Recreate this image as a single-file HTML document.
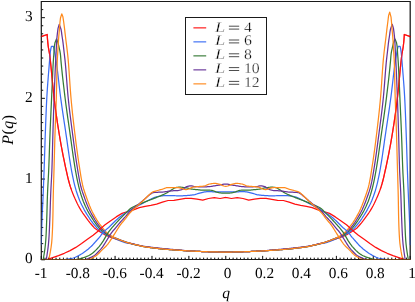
<!DOCTYPE html>
<html><head><meta charset="utf-8"><title>P(q)</title>
<style>html,body{margin:0;padding:0;background:#fff;}body{width:415px;height:302px;overflow:hidden;}svg{display:block;}text{font-family:"Liberation Serif",serif;fill:#000;text-rendering:geometricPrecision;}.lg text{stroke:#fff;stroke-width:0.3px;}.t{filter:grayscale(1);}</style></head><body>
<svg width="415" height="302" viewBox="0 0 415 302">
<rect x="0" y="0" width="415" height="302" fill="#fff"/>
<defs><clipPath id="c"><rect x="40.70" y="0.90" width="370.10" height="259.20"/></clipPath></defs>
<path d="M41.30 259.50 V255.90 M44.99 259.50 V257.70 M48.68 259.50 V257.70 M52.37 259.50 V257.70 M56.06 259.50 V257.70 M59.74 259.50 V257.70 M63.43 259.50 V257.70 M67.12 259.50 V257.70 M70.81 259.50 V257.70 M74.50 259.50 V257.70 M78.19 259.50 V255.90 M81.88 259.50 V257.70 M85.57 259.50 V257.70 M89.26 259.50 V257.70 M92.95 259.50 V257.70 M96.63 259.50 V257.70 M100.32 259.50 V257.70 M104.01 259.50 V257.70 M107.70 259.50 V257.70 M111.39 259.50 V257.70 M115.08 259.50 V255.90 M118.77 259.50 V257.70 M122.46 259.50 V257.70 M126.15 259.50 V257.70 M129.84 259.50 V257.70 M133.52 259.50 V257.70 M137.21 259.50 V257.70 M140.90 259.50 V257.70 M144.59 259.50 V257.70 M148.28 259.50 V257.70 M151.97 259.50 V255.90 M155.66 259.50 V257.70 M159.35 259.50 V257.70 M163.04 259.50 V257.70 M166.73 259.50 V257.70 M170.42 259.50 V257.70 M174.10 259.50 V257.70 M177.79 259.50 V257.70 M181.48 259.50 V257.70 M185.17 259.50 V257.70 M188.86 259.50 V255.90 M192.55 259.50 V257.70 M196.24 259.50 V257.70 M199.93 259.50 V257.70 M203.62 259.50 V257.70 M207.31 259.50 V257.70 M210.99 259.50 V257.70 M214.68 259.50 V257.70 M218.37 259.50 V257.70 M222.06 259.50 V257.70 M225.75 259.50 V255.90 M229.44 259.50 V257.70 M233.13 259.50 V257.70 M236.82 259.50 V257.70 M240.51 259.50 V257.70 M244.19 259.50 V257.70 M247.88 259.50 V257.70 M251.57 259.50 V257.70 M255.26 259.50 V257.70 M258.95 259.50 V257.70 M262.64 259.50 V255.90 M266.33 259.50 V257.70 M270.02 259.50 V257.70 M273.71 259.50 V257.70 M277.40 259.50 V257.70 M281.08 259.50 V257.70 M284.77 259.50 V257.70 M288.46 259.50 V257.70 M292.15 259.50 V257.70 M295.84 259.50 V257.70 M299.53 259.50 V255.90 M303.22 259.50 V257.70 M306.91 259.50 V257.70 M310.60 259.50 V257.70 M314.29 259.50 V257.70 M317.98 259.50 V257.70 M321.66 259.50 V257.70 M325.35 259.50 V257.70 M329.04 259.50 V257.70 M332.73 259.50 V257.70 M336.42 259.50 V255.90 M340.11 259.50 V257.70 M343.80 259.50 V257.70 M347.49 259.50 V257.70 M351.18 259.50 V257.70 M354.86 259.50 V257.70 M358.55 259.50 V257.70 M362.24 259.50 V257.70 M365.93 259.50 V257.70 M369.62 259.50 V257.70 M373.31 259.50 V255.90 M377.00 259.50 V257.70 M380.69 259.50 V257.70 M384.38 259.50 V257.70 M388.07 259.50 V257.70 M391.75 259.50 V257.70 M395.44 259.50 V257.70 M399.13 259.50 V257.70 M402.82 259.50 V257.70 M406.51 259.50 V257.70 M410.20 259.50 V255.90 M41.30 259.75 H44.90 M41.30 251.68 H43.20 M41.30 243.61 H43.20 M41.30 235.54 H43.20 M41.30 227.47 H43.20 M41.30 219.40 H43.20 M41.30 211.33 H43.20 M41.30 203.26 H43.20 M41.30 195.19 H43.20 M41.30 187.12 H43.20 M41.30 179.05 H44.90 M41.30 170.98 H43.20 M41.30 162.91 H43.20 M41.30 154.84 H43.20 M41.30 146.77 H43.20 M41.30 138.70 H43.20 M41.30 130.63 H43.20 M41.30 122.56 H43.20 M41.30 114.49 H43.20 M41.30 106.42 H43.20 M41.30 98.35 H44.90 M41.30 90.28 H43.20 M41.30 82.21 H43.20 M41.30 74.14 H43.20 M41.30 66.07 H43.20 M41.30 58.00 H43.20 M41.30 49.93 H43.20 M41.30 41.86 H43.20 M41.30 33.79 H43.20 M41.30 25.72 H43.20 M41.30 17.65 H44.90 M41.30 9.58 H43.20 M41.30 1.51 H43.20" stroke="#000" stroke-width="0.8" fill="none"/>
<rect x="41.30" y="1.50" width="368.90" height="258.00" fill="none" stroke="#181818" stroke-width="1.0"/>
<g fill="none" stroke-width="1.25" stroke-linejoin="round" stroke-linecap="round" clip-path="url(#c)">
<path stroke="#ff1010" d="M41.20 36.60 L47.20 34.50 L47.33 36.95 L47.51 39.39 L47.73 41.84 L47.99 44.28 L48.28 46.73 L48.68 49.17 L49.14 51.62 L49.58 54.06 L49.91 56.51 L50.19 58.96 L50.45 61.40 L50.71 63.85 L50.96 66.29 L51.20 68.74 L51.44 71.18 L51.67 73.63 L51.89 76.07 L52.12 78.52 L52.35 80.97 L52.58 83.41 L52.82 85.86 L53.06 88.30 L53.30 90.75 L53.56 93.19 L53.83 95.64 L54.11 98.08 L54.40 100.53 L54.70 102.98 L55.01 105.42 L55.33 107.87 L55.65 110.31 L55.99 112.76 L56.33 115.20 L56.68 117.65 L57.04 120.09 L57.40 122.54 L57.77 124.99 L58.15 127.43 L58.54 129.88 L58.93 132.32 L59.33 134.77 L59.73 137.21 L60.15 139.66 L60.58 142.11 L61.02 144.55 L61.47 147.00 L61.93 149.44 L62.39 151.89 L62.87 154.33 L63.36 156.78 L63.86 159.22 L64.36 161.67 L64.88 164.12 L65.40 166.56 L65.93 169.01 L66.47 171.45 L67.02 173.90 L67.58 176.34 L68.17 178.79 L68.79 181.23 L69.45 183.68 L70.17 186.13 L70.97 188.57 L71.85 191.02 L72.80 193.46 L73.81 195.91 L74.85 198.35 L75.96 200.80 L77.13 203.24 L78.39 205.69 L79.73 208.14 L81.19 210.58 L82.78 213.03 L84.47 215.47 L86.25 217.92 L88.08 220.36 L90.02 222.81 L92.07 225.25 L94.20 227.70 L95.24 228.54 L96.24 229.26 L97.25 229.92 L98.25 230.57 L99.26 231.24 L100.26 231.91 L101.27 232.57 L102.27 233.20 L103.28 233.81 L104.28 234.38 L105.28 234.90 L106.29 235.38 L107.29 235.84 L108.30 236.28 L109.30 236.69 L110.31 237.09 L111.31 237.47 L112.32 237.82 L113.32 238.16 L114.33 238.49 L115.33 238.81 L116.34 239.14 L117.34 239.47 L118.35 239.79 L119.35 240.11 L120.36 240.43 L121.36 240.75 L122.36 241.08 L123.37 241.41 L124.37 241.74 L125.38 242.06 L126.38 242.37 L127.39 242.65 L128.39 242.92 L129.40 243.19 L130.40 243.45 L131.41 243.70 L132.41 243.96 L133.42 244.21 L134.42 244.46 L135.43 244.70 L136.43 244.94 L137.44 245.18 L138.44 245.41 L139.44 245.65 L140.45 245.87 L141.45 246.10 L142.46 246.31 L143.46 246.50 L144.47 246.68 L145.47 246.85 L146.48 247.00 L147.48 247.15 L148.49 247.29 L149.49 247.43 L150.50 247.57 L151.50 247.70 L152.51 247.83 L153.51 247.96 L154.52 248.09 L155.52 248.21 L156.52 248.34 L157.53 248.45 L158.53 248.57 L159.54 248.68 L160.54 248.79 L161.55 248.89 L162.55 248.99 L163.56 249.08 L164.56 249.17 L165.57 249.25 L166.57 249.34 L167.58 249.42 L168.58 249.50 L169.59 249.57 L170.59 249.65 L171.60 249.72 L172.60 249.80 L173.61 249.87 L174.61 249.94 L175.61 250.01 L176.62 250.08 L177.62 250.15 L178.63 250.22 L179.63 250.29 L180.64 250.36 L181.64 250.43 L182.65 250.50 L183.65 250.57 L184.66 250.64 L185.66 250.71 L186.67 250.77 L187.67 250.84 L188.68 250.90 L189.68 250.96 L190.69 251.02 L191.69 251.08 L192.69 251.13 L193.70 251.19 L194.70 251.23 L195.71 251.28 L196.71 251.33 L197.72 251.37 L198.72 251.42 L199.73 251.46 L200.73 251.50 L201.74 251.54 L202.74 251.58 L203.75 251.62 L204.75 251.65 L205.76 251.69 L206.76 251.72 L207.77 251.75 L208.77 251.78 L209.77 251.80 L210.78 251.83 L211.78 251.85 L212.79 251.88 L213.79 251.90 L214.80 251.92 L215.80 251.94 L216.81 251.96 L217.81 251.98 L218.82 252.00 L219.82 252.02 L220.83 252.04 L221.83 252.05 L222.84 252.07 L223.84 252.08 L224.85 252.09 L225.85 252.10 L225.65 252.10 L226.65 252.09 L227.66 252.08 L228.66 252.07 L229.67 252.05 L230.67 252.04 L231.68 252.02 L232.68 252.00 L233.69 251.98 L234.69 251.96 L235.70 251.94 L236.70 251.92 L237.71 251.90 L238.71 251.88 L239.72 251.85 L240.72 251.83 L241.73 251.80 L242.73 251.78 L243.73 251.75 L244.74 251.72 L245.74 251.69 L246.75 251.65 L247.75 251.62 L248.76 251.58 L249.76 251.54 L250.77 251.50 L251.77 251.46 L252.78 251.42 L253.78 251.37 L254.79 251.33 L255.79 251.28 L256.80 251.23 L257.80 251.19 L258.81 251.13 L259.81 251.08 L260.81 251.02 L261.82 250.96 L262.82 250.90 L263.83 250.84 L264.83 250.77 L265.84 250.71 L266.84 250.64 L267.85 250.57 L268.85 250.50 L269.86 250.43 L270.86 250.36 L271.87 250.29 L272.87 250.22 L273.88 250.15 L274.88 250.08 L275.89 250.01 L276.89 249.94 L277.89 249.87 L278.90 249.80 L279.90 249.72 L280.91 249.65 L281.91 249.57 L282.92 249.50 L283.92 249.42 L284.93 249.34 L285.93 249.25 L286.94 249.17 L287.94 249.08 L288.95 248.99 L289.95 248.89 L290.96 248.79 L291.96 248.68 L292.97 248.57 L293.97 248.45 L294.98 248.34 L295.98 248.21 L296.98 248.09 L297.99 247.96 L298.99 247.83 L300.00 247.70 L301.00 247.57 L302.01 247.43 L303.01 247.29 L304.02 247.15 L305.02 247.00 L306.03 246.85 L307.03 246.68 L308.04 246.50 L309.04 246.31 L310.05 246.10 L311.05 245.87 L312.06 245.65 L313.06 245.41 L314.06 245.18 L315.07 244.94 L316.07 244.70 L317.08 244.46 L318.08 244.21 L319.09 243.96 L320.09 243.70 L321.10 243.45 L322.10 243.19 L323.11 242.92 L324.11 242.65 L325.12 242.37 L326.12 242.06 L327.13 241.74 L328.13 241.41 L329.14 241.08 L330.14 240.75 L331.14 240.43 L332.15 240.11 L333.15 239.79 L334.16 239.47 L335.16 239.14 L336.17 238.81 L337.17 238.49 L338.18 238.16 L339.18 237.82 L340.19 237.47 L341.19 237.09 L342.20 236.69 L343.20 236.28 L344.21 235.84 L345.21 235.38 L346.22 234.90 L347.22 234.38 L348.22 233.81 L349.23 233.20 L350.23 232.57 L351.24 231.91 L352.24 231.24 L353.25 230.57 L354.25 229.92 L355.26 229.26 L356.26 228.54 L357.30 227.70 L359.43 225.25 L361.48 222.81 L363.42 220.36 L365.25 217.92 L367.03 215.47 L368.72 213.03 L370.31 210.58 L371.77 208.14 L373.11 205.69 L374.37 203.24 L375.54 200.80 L376.65 198.35 L377.69 195.91 L378.70 193.46 L379.65 191.02 L380.53 188.57 L381.33 186.13 L382.05 183.68 L382.71 181.23 L383.33 178.79 L383.92 176.34 L384.48 173.90 L385.03 171.45 L385.57 169.01 L386.10 166.56 L386.62 164.12 L387.14 161.67 L387.64 159.22 L388.14 156.78 L388.63 154.33 L389.11 151.89 L389.57 149.44 L390.03 147.00 L390.48 144.55 L390.92 142.11 L391.35 139.66 L391.77 137.21 L392.17 134.77 L392.57 132.32 L392.96 129.88 L393.35 127.43 L393.73 124.99 L394.10 122.54 L394.46 120.09 L394.82 117.65 L395.17 115.20 L395.51 112.76 L395.85 110.31 L396.17 107.87 L396.49 105.42 L396.80 102.98 L397.10 100.53 L397.39 98.08 L397.67 95.64 L397.94 93.19 L398.20 90.75 L398.44 88.30 L398.68 85.86 L398.92 83.41 L399.15 80.97 L399.38 78.52 L399.61 76.07 L399.83 73.63 L400.06 71.18 L400.30 68.74 L400.54 66.29 L400.79 63.85 L401.05 61.40 L401.31 58.96 L401.59 56.51 L401.92 54.06 L402.36 51.62 L402.82 49.17 L403.22 46.73 L403.51 44.28 L403.77 41.84 L403.99 39.39 L404.17 36.95 L404.30 34.50 L410.30 36.60"/>
<path stroke="#3a6cf4" d="M41.30 244.70 L41.37 241.34 L41.44 237.97 L41.53 234.61 L41.62 231.25 L41.72 227.89 L41.84 224.52 L41.96 221.16 L42.09 217.80 L42.22 214.44 L42.37 211.07 L42.53 207.71 L42.70 204.35 L42.87 200.98 L43.03 197.62 L43.17 194.26 L43.31 190.90 L43.45 187.53 L43.58 184.17 L43.71 180.81 L43.83 177.45 L43.95 174.08 L44.07 170.72 L44.19 167.36 L44.31 163.99 L44.42 160.63 L44.53 157.27 L44.63 153.91 L44.74 150.54 L44.85 147.18 L44.96 143.82 L45.07 140.46 L45.19 137.09 L45.31 133.73 L45.43 130.37 L45.56 127.01 L45.68 123.64 L45.81 120.28 L45.94 116.92 L46.08 113.55 L46.22 110.19 L46.37 106.83 L46.52 103.47 L46.69 100.10 L46.87 96.74 L47.07 93.38 L47.28 90.02 L47.51 86.65 L47.76 83.29 L48.02 79.93 L48.28 76.56 L48.55 73.20 L48.82 69.84 L49.09 66.48 L49.36 63.11 L49.62 59.75 L49.87 56.39 L50.21 53.03 L50.69 49.66 L51.40 46.30 L51.40 46.30 L53.30 46.30 L53.91 48.60 L54.40 50.89 L54.80 53.19 L55.21 55.48 L55.63 57.78 L56.01 60.08 L56.35 62.37 L56.67 64.67 L56.98 66.97 L57.28 69.26 L57.56 71.56 L57.84 73.85 L58.11 76.15 L58.37 78.45 L58.63 80.74 L58.89 83.04 L59.15 85.34 L59.42 87.63 L59.69 89.93 L59.96 92.22 L60.25 94.52 L60.54 96.82 L60.85 99.11 L61.17 101.41 L61.49 103.71 L61.81 106.00 L62.15 108.30 L62.48 110.59 L62.82 112.89 L63.16 115.19 L63.51 117.48 L63.85 119.78 L64.20 122.07 L64.55 124.37 L64.90 126.67 L65.24 128.96 L65.59 131.26 L65.93 133.56 L66.27 135.85 L66.61 138.15 L66.94 140.44 L67.26 142.74 L67.59 145.04 L67.91 147.33 L68.24 149.63 L68.57 151.93 L68.90 154.22 L69.24 156.52 L69.59 158.81 L69.95 161.11 L70.32 163.41 L70.70 165.70 L71.09 168.00 L71.50 170.29 L71.93 172.59 L72.37 174.89 L72.84 177.18 L73.33 179.48 L73.84 181.78 L74.39 184.07 L74.97 186.37 L75.60 188.66 L76.28 190.96 L77.02 193.26 L77.80 195.55 L78.64 197.85 L79.55 200.15 L80.56 202.44 L81.64 204.74 L82.79 207.03 L83.99 209.33 L85.28 211.63 L86.65 213.92 L88.10 216.22 L89.63 218.52 L91.24 220.81 L92.96 223.11 L94.79 225.40 L96.70 227.70 L97.14 228.14 L98.14 229.10 L99.15 229.98 L100.16 230.79 L101.16 231.53 L102.17 232.22 L103.17 232.85 L104.18 233.45 L105.18 234.02 L106.19 234.57 L107.19 235.09 L108.20 235.58 L109.21 236.05 L110.21 236.52 L111.22 236.98 L112.22 237.43 L113.23 237.86 L114.23 238.29 L115.24 238.72 L116.24 239.15 L117.25 239.58 L118.26 240.02 L119.26 240.44 L120.27 240.85 L121.27 241.23 L122.28 241.59 L123.28 241.95 L124.29 242.29 L125.29 242.59 L126.30 242.85 L127.31 243.06 L128.31 243.24 L129.32 243.39 L130.32 243.54 L131.33 243.71 L132.33 243.91 L133.34 244.15 L134.34 244.40 L135.35 244.66 L136.36 244.92 L137.36 245.16 L138.37 245.39 L139.37 245.63 L140.38 245.86 L141.38 246.08 L142.39 246.29 L143.39 246.49 L144.40 246.67 L145.41 246.84 L146.41 246.99 L147.42 247.14 L148.42 247.29 L149.43 247.42 L150.43 247.56 L151.44 247.69 L152.44 247.82 L153.45 247.95 L154.46 248.08 L155.46 248.21 L156.47 248.33 L157.47 248.45 L158.48 248.56 L159.48 248.67 L160.49 248.78 L161.49 248.88 L162.50 248.98 L163.51 249.07 L164.51 249.16 L165.52 249.25 L166.52 249.33 L167.53 249.42 L168.53 249.49 L169.54 249.57 L170.54 249.65 L171.55 249.72 L172.56 249.79 L173.56 249.86 L174.57 249.93 L175.57 250.00 L176.58 250.07 L177.58 250.14 L178.59 250.21 L179.59 250.28 L180.60 250.35 L181.61 250.43 L182.61 250.50 L183.62 250.57 L184.62 250.64 L185.63 250.70 L186.63 250.77 L187.64 250.84 L188.64 250.90 L189.65 250.96 L190.66 251.02 L191.66 251.08 L192.67 251.13 L193.67 251.18 L194.68 251.23 L195.68 251.28 L196.69 251.33 L197.69 251.37 L198.70 251.41 L199.71 251.46 L200.71 251.50 L201.72 251.54 L202.72 251.58 L203.73 251.62 L204.73 251.65 L205.74 251.69 L206.74 251.72 L207.75 251.75 L208.76 251.78 L209.76 251.80 L210.77 251.83 L211.77 251.85 L212.78 251.87 L213.78 251.90 L214.79 251.92 L215.79 251.94 L216.80 251.96 L217.81 251.98 L218.81 252.00 L219.82 252.02 L220.82 252.04 L221.83 252.05 L222.83 252.07 L223.84 252.08 L224.84 252.09 L225.85 252.10 L225.65 252.10 L226.66 252.09 L227.66 252.08 L228.67 252.07 L229.67 252.05 L230.68 252.04 L231.68 252.02 L232.69 252.00 L233.69 251.98 L234.70 251.96 L235.71 251.94 L236.71 251.92 L237.72 251.90 L238.72 251.87 L239.73 251.85 L240.73 251.83 L241.74 251.80 L242.74 251.78 L243.75 251.75 L244.76 251.72 L245.76 251.69 L246.77 251.65 L247.77 251.62 L248.78 251.58 L249.78 251.54 L250.79 251.50 L251.79 251.46 L252.80 251.41 L253.81 251.37 L254.81 251.33 L255.82 251.28 L256.82 251.23 L257.83 251.18 L258.83 251.13 L259.84 251.08 L260.84 251.02 L261.85 250.96 L262.86 250.90 L263.86 250.84 L264.87 250.77 L265.87 250.70 L266.88 250.64 L267.88 250.57 L268.89 250.50 L269.89 250.43 L270.90 250.35 L271.91 250.28 L272.91 250.21 L273.92 250.14 L274.92 250.07 L275.93 250.00 L276.93 249.93 L277.94 249.86 L278.94 249.79 L279.95 249.72 L280.96 249.65 L281.96 249.57 L282.97 249.49 L283.97 249.42 L284.98 249.33 L285.98 249.25 L286.99 249.16 L287.99 249.07 L289.00 248.98 L290.01 248.88 L291.01 248.78 L292.02 248.67 L293.02 248.56 L294.03 248.45 L295.03 248.33 L296.04 248.21 L297.04 248.08 L298.05 247.95 L299.06 247.82 L300.06 247.69 L301.07 247.56 L302.07 247.42 L303.08 247.29 L304.08 247.14 L305.09 246.99 L306.09 246.84 L307.10 246.67 L308.11 246.49 L309.11 246.29 L310.12 246.08 L311.12 245.86 L312.13 245.63 L313.13 245.39 L314.14 245.16 L315.14 244.92 L316.15 244.66 L317.16 244.40 L318.16 244.15 L319.17 243.91 L320.17 243.71 L321.18 243.54 L322.18 243.39 L323.19 243.24 L324.19 243.06 L325.20 242.85 L326.21 242.59 L327.21 242.29 L328.22 241.95 L329.22 241.59 L330.23 241.23 L331.23 240.85 L332.24 240.44 L333.24 240.02 L334.25 239.58 L335.26 239.15 L336.26 238.72 L337.27 238.29 L338.27 237.86 L339.28 237.43 L340.28 236.98 L341.29 236.52 L342.29 236.05 L343.30 235.58 L344.31 235.09 L345.31 234.57 L346.32 234.02 L347.32 233.45 L348.33 232.85 L349.33 232.22 L350.34 231.53 L351.34 230.79 L352.35 229.98 L353.36 229.10 L354.36 228.14 L354.80 227.70 L356.71 225.40 L358.54 223.11 L360.26 220.81 L361.87 218.52 L363.40 216.22 L364.85 213.92 L366.22 211.63 L367.51 209.33 L368.71 207.03 L369.86 204.74 L370.94 202.44 L371.95 200.15 L372.86 197.85 L373.70 195.55 L374.48 193.26 L375.22 190.96 L375.90 188.66 L376.53 186.37 L377.11 184.07 L377.66 181.78 L378.17 179.48 L378.66 177.18 L379.13 174.89 L379.57 172.59 L380.00 170.29 L380.41 168.00 L380.80 165.70 L381.18 163.41 L381.55 161.11 L381.91 158.81 L382.26 156.52 L382.60 154.22 L382.93 151.93 L383.26 149.63 L383.59 147.33 L383.91 145.04 L384.24 142.74 L384.56 140.44 L384.89 138.15 L385.23 135.85 L385.57 133.56 L385.91 131.26 L386.26 128.96 L386.60 126.67 L386.95 124.37 L387.30 122.07 L387.65 119.78 L387.99 117.48 L388.34 115.19 L388.68 112.89 L389.02 110.59 L389.35 108.30 L389.69 106.00 L390.01 103.71 L390.33 101.41 L390.65 99.11 L390.96 96.82 L391.25 94.52 L391.54 92.22 L391.81 89.93 L392.08 87.63 L392.35 85.34 L392.61 83.04 L392.87 80.74 L393.13 78.45 L393.39 76.15 L393.66 73.85 L393.94 71.56 L394.22 69.26 L394.52 66.97 L394.83 64.67 L395.15 62.37 L395.49 60.08 L395.87 57.78 L396.29 55.48 L396.70 53.19 L397.10 50.89 L397.59 48.60 L398.20 46.30 L400.10 46.30 L400.10 46.30 L400.81 49.66 L401.29 53.03 L401.63 56.39 L401.88 59.75 L402.14 63.11 L402.41 66.48 L402.68 69.84 L402.95 73.20 L403.22 76.56 L403.48 79.93 L403.74 83.29 L403.99 86.65 L404.22 90.02 L404.43 93.38 L404.63 96.74 L404.81 100.10 L404.98 103.47 L405.13 106.83 L405.28 110.19 L405.42 113.55 L405.56 116.92 L405.69 120.28 L405.82 123.64 L405.94 127.01 L406.07 130.37 L406.19 133.73 L406.31 137.09 L406.43 140.46 L406.54 143.82 L406.65 147.18 L406.76 150.54 L406.87 153.91 L406.97 157.27 L407.08 160.63 L407.19 163.99 L407.31 167.36 L407.43 170.72 L407.55 174.08 L407.67 177.45 L407.79 180.81 L407.92 184.17 L408.05 187.53 L408.19 190.90 L408.33 194.26 L408.47 197.62 L408.63 200.98 L408.80 204.35 L408.97 207.71 L409.13 211.07 L409.28 214.44 L409.41 217.80 L409.54 221.16 L409.66 224.52 L409.78 227.89 L409.88 231.25 L409.97 234.61 L410.06 237.97 L410.13 241.34 L410.20 244.70"/>
<path stroke="#357a35" d="M41.30 259.50 L43.20 259.50 L43.84 255.76 L44.44 252.03 L44.96 248.29 L45.40 244.55 L45.74 240.81 L45.98 237.08 L46.18 233.34 L46.34 229.60 L46.49 225.86 L46.62 222.13 L46.76 218.39 L46.88 214.65 L46.99 210.92 L47.09 207.18 L47.19 203.44 L47.30 199.70 L47.43 195.97 L47.57 192.23 L47.74 188.49 L47.94 184.75 L48.14 181.02 L48.34 177.28 L48.54 173.54 L48.71 169.81 L48.86 166.07 L49.00 162.33 L49.14 158.59 L49.27 154.86 L49.39 151.12 L49.52 147.38 L49.64 143.64 L49.78 139.91 L49.92 136.17 L50.06 132.43 L50.22 128.69 L50.38 124.96 L50.54 121.22 L50.71 117.48 L50.88 113.75 L51.05 110.01 L51.22 106.27 L51.39 102.53 L51.56 98.80 L51.73 95.06 L51.89 91.32 L52.05 87.58 L52.21 83.85 L52.37 80.11 L52.54 76.37 L52.71 72.64 L52.89 68.90 L53.09 65.16 L53.31 61.42 L53.57 57.69 L53.87 53.95 L54.08 50.21 L54.36 46.47 L54.97 42.74 L56.50 39.00 L57.56 41.39 L58.26 43.78 L58.81 46.17 L59.36 48.55 L59.87 50.94 L60.30 53.33 L60.58 55.72 L60.76 58.11 L60.94 60.50 L61.16 62.89 L61.39 65.27 L61.62 67.66 L61.86 70.05 L62.11 72.44 L62.37 74.83 L62.63 77.22 L62.90 79.61 L63.17 81.99 L63.45 84.38 L63.74 86.77 L64.02 89.16 L64.31 91.55 L64.60 93.94 L64.89 96.33 L65.19 98.72 L65.49 101.10 L65.80 103.49 L66.11 105.88 L66.44 108.27 L66.76 110.66 L67.10 113.05 L67.43 115.44 L67.77 117.82 L68.11 120.21 L68.46 122.60 L68.80 124.99 L69.15 127.38 L69.49 129.77 L69.84 132.16 L70.18 134.54 L70.52 136.93 L70.85 139.32 L71.18 141.71 L71.51 144.10 L71.84 146.49 L72.17 148.88 L72.51 151.26 L72.85 153.65 L73.19 156.04 L73.55 158.43 L73.91 160.82 L74.28 163.21 L74.66 165.60 L75.06 167.98 L75.46 170.37 L75.89 172.76 L76.33 175.15 L76.79 177.54 L77.27 179.93 L77.78 182.32 L78.32 184.71 L78.89 187.09 L79.51 189.48 L80.17 191.87 L80.88 194.26 L81.65 196.65 L82.46 199.04 L83.35 201.43 L84.33 203.81 L85.37 206.20 L86.50 208.59 L87.72 210.98 L89.07 213.37 L90.51 215.76 L92.02 218.15 L93.58 220.53 L95.23 222.92 L96.98 225.31 L98.80 227.70 L99.71 228.64 L100.71 229.59 L101.71 230.47 L102.71 231.28 L103.71 232.03 L104.71 232.74 L105.71 233.42 L106.72 234.06 L107.72 234.66 L108.72 235.23 L109.72 235.77 L110.72 236.26 L111.72 236.70 L112.72 237.10 L113.72 237.48 L114.72 237.85 L115.73 238.23 L116.73 238.63 L117.73 239.03 L118.73 239.44 L119.73 239.83 L120.73 240.22 L121.73 240.60 L122.73 240.98 L123.73 241.35 L124.74 241.71 L125.74 242.05 L126.74 242.37 L127.74 242.68 L128.74 242.97 L129.74 243.25 L130.74 243.52 L131.74 243.79 L132.75 244.04 L133.75 244.30 L134.75 244.54 L135.75 244.78 L136.75 245.02 L137.75 245.25 L138.75 245.48 L139.75 245.72 L140.75 245.94 L141.76 246.16 L142.76 246.37 L143.76 246.56 L144.76 246.73 L145.76 246.89 L146.76 247.05 L147.76 247.19 L148.76 247.33 L149.76 247.47 L150.77 247.60 L151.77 247.73 L152.77 247.87 L153.77 247.99 L154.77 248.12 L155.77 248.24 L156.77 248.36 L157.77 248.48 L158.77 248.60 L159.78 248.71 L160.78 248.81 L161.78 248.91 L162.78 249.01 L163.78 249.10 L164.78 249.19 L165.78 249.27 L166.78 249.36 L167.78 249.44 L168.79 249.51 L169.79 249.59 L170.79 249.66 L171.79 249.74 L172.79 249.81 L173.79 249.88 L174.79 249.95 L175.79 250.02 L176.79 250.09 L177.80 250.16 L178.80 250.23 L179.80 250.30 L180.80 250.37 L181.80 250.44 L182.80 250.51 L183.80 250.58 L184.80 250.65 L185.80 250.72 L186.81 250.78 L187.81 250.85 L188.81 250.91 L189.81 250.97 L190.81 251.03 L191.81 251.09 L192.81 251.14 L193.81 251.19 L194.82 251.24 L195.82 251.29 L196.82 251.33 L197.82 251.38 L198.82 251.42 L199.82 251.46 L200.82 251.50 L201.82 251.54 L202.82 251.58 L203.83 251.62 L204.83 251.65 L205.83 251.69 L206.83 251.72 L207.83 251.75 L208.83 251.78 L209.83 251.80 L210.83 251.83 L211.83 251.85 L212.84 251.88 L213.84 251.90 L214.84 251.92 L215.84 251.94 L216.84 251.96 L217.84 251.98 L218.84 252.00 L219.84 252.02 L220.84 252.04 L221.85 252.05 L222.85 252.07 L223.85 252.08 L224.85 252.09 L225.85 252.10 L225.65 252.10 L226.65 252.09 L227.65 252.08 L228.65 252.07 L229.65 252.05 L230.66 252.04 L231.66 252.02 L232.66 252.00 L233.66 251.98 L234.66 251.96 L235.66 251.94 L236.66 251.92 L237.66 251.90 L238.66 251.88 L239.67 251.85 L240.67 251.83 L241.67 251.80 L242.67 251.78 L243.67 251.75 L244.67 251.72 L245.67 251.69 L246.67 251.65 L247.67 251.62 L248.68 251.58 L249.68 251.54 L250.68 251.50 L251.68 251.46 L252.68 251.42 L253.68 251.38 L254.68 251.33 L255.68 251.29 L256.68 251.24 L257.69 251.19 L258.69 251.14 L259.69 251.09 L260.69 251.03 L261.69 250.97 L262.69 250.91 L263.69 250.85 L264.69 250.78 L265.70 250.72 L266.70 250.65 L267.70 250.58 L268.70 250.51 L269.70 250.44 L270.70 250.37 L271.70 250.30 L272.70 250.23 L273.70 250.16 L274.71 250.09 L275.71 250.02 L276.71 249.95 L277.71 249.88 L278.71 249.81 L279.71 249.74 L280.71 249.66 L281.71 249.59 L282.71 249.51 L283.72 249.44 L284.72 249.36 L285.72 249.27 L286.72 249.19 L287.72 249.10 L288.72 249.01 L289.72 248.91 L290.72 248.81 L291.72 248.71 L292.73 248.60 L293.73 248.48 L294.73 248.36 L295.73 248.24 L296.73 248.12 L297.73 247.99 L298.73 247.87 L299.73 247.73 L300.73 247.60 L301.74 247.47 L302.74 247.33 L303.74 247.19 L304.74 247.05 L305.74 246.89 L306.74 246.73 L307.74 246.56 L308.74 246.37 L309.74 246.16 L310.75 245.94 L311.75 245.72 L312.75 245.48 L313.75 245.25 L314.75 245.02 L315.75 244.78 L316.75 244.54 L317.75 244.30 L318.75 244.04 L319.76 243.79 L320.76 243.52 L321.76 243.25 L322.76 242.97 L323.76 242.68 L324.76 242.37 L325.76 242.05 L326.76 241.71 L327.77 241.35 L328.77 240.98 L329.77 240.60 L330.77 240.22 L331.77 239.83 L332.77 239.44 L333.77 239.03 L334.77 238.63 L335.77 238.23 L336.78 237.85 L337.78 237.48 L338.78 237.10 L339.78 236.70 L340.78 236.26 L341.78 235.77 L342.78 235.23 L343.78 234.66 L344.78 234.06 L345.79 233.42 L346.79 232.74 L347.79 232.03 L348.79 231.28 L349.79 230.47 L350.79 229.59 L351.79 228.64 L352.70 227.70 L354.52 225.31 L356.27 222.92 L357.92 220.53 L359.48 218.15 L360.99 215.76 L362.43 213.37 L363.78 210.98 L365.00 208.59 L366.13 206.20 L367.17 203.81 L368.15 201.43 L369.04 199.04 L369.85 196.65 L370.62 194.26 L371.33 191.87 L371.99 189.48 L372.61 187.09 L373.18 184.71 L373.72 182.32 L374.23 179.93 L374.71 177.54 L375.17 175.15 L375.61 172.76 L376.04 170.37 L376.44 167.98 L376.84 165.60 L377.22 163.21 L377.59 160.82 L377.95 158.43 L378.31 156.04 L378.65 153.65 L378.99 151.26 L379.33 148.88 L379.66 146.49 L379.99 144.10 L380.32 141.71 L380.65 139.32 L380.98 136.93 L381.32 134.54 L381.66 132.16 L382.01 129.77 L382.35 127.38 L382.70 124.99 L383.04 122.60 L383.39 120.21 L383.73 117.82 L384.07 115.44 L384.40 113.05 L384.74 110.66 L385.06 108.27 L385.39 105.88 L385.70 103.49 L386.01 101.10 L386.31 98.72 L386.61 96.33 L386.90 93.94 L387.19 91.55 L387.48 89.16 L387.76 86.77 L388.05 84.38 L388.33 81.99 L388.60 79.61 L388.87 77.22 L389.13 74.83 L389.39 72.44 L389.64 70.05 L389.88 67.66 L390.11 65.27 L390.34 62.89 L390.56 60.50 L390.74 58.11 L390.92 55.72 L391.20 53.33 L391.63 50.94 L392.14 48.55 L392.69 46.17 L393.24 43.78 L393.94 41.39 L395.00 39.00 L396.53 42.74 L397.14 46.47 L397.42 50.21 L397.63 53.95 L397.93 57.69 L398.19 61.42 L398.41 65.16 L398.61 68.90 L398.79 72.64 L398.96 76.37 L399.13 80.11 L399.29 83.85 L399.45 87.58 L399.61 91.32 L399.77 95.06 L399.94 98.80 L400.11 102.53 L400.28 106.27 L400.45 110.01 L400.62 113.75 L400.79 117.48 L400.96 121.22 L401.12 124.96 L401.28 128.69 L401.44 132.43 L401.58 136.17 L401.72 139.91 L401.86 143.64 L401.98 147.38 L402.11 151.12 L402.23 154.86 L402.36 158.59 L402.50 162.33 L402.64 166.07 L402.79 169.81 L402.96 173.54 L403.16 177.28 L403.36 181.02 L403.56 184.75 L403.76 188.49 L403.93 192.23 L404.07 195.97 L404.20 199.70 L404.31 203.44 L404.41 207.18 L404.51 210.92 L404.62 214.65 L404.74 218.39 L404.88 222.13 L405.01 225.86 L405.16 229.60 L405.32 233.34 L405.52 237.08 L405.76 240.81 L406.10 244.55 L406.54 248.29 L407.06 252.03 L407.66 255.76 L408.30 259.50 L410.20 259.50"/>
<path stroke="#663399" d="M41.30 259.50 L46.30 259.50 L46.94 255.52 L47.54 251.53 L48.06 247.55 L48.50 243.56 L48.83 239.58 L49.09 235.59 L49.30 231.61 L49.48 227.62 L49.65 223.64 L49.81 219.65 L49.97 215.67 L50.10 211.68 L50.23 207.70 L50.35 203.71 L50.49 199.73 L50.63 195.74 L50.80 191.76 L51.00 187.77 L51.21 183.79 L51.44 179.81 L51.64 175.82 L51.83 171.84 L51.98 167.85 L52.10 163.87 L52.22 159.88 L52.33 155.90 L52.43 151.91 L52.53 147.93 L52.63 143.94 L52.73 139.96 L52.84 135.97 L52.96 131.99 L53.08 128.00 L53.21 124.02 L53.34 120.03 L53.47 116.05 L53.60 112.06 L53.74 108.08 L53.88 104.09 L54.02 100.11 L54.17 96.13 L54.32 92.14 L54.47 88.16 L54.63 84.17 L54.78 80.19 L54.95 76.20 L55.12 72.22 L55.30 68.23 L55.49 64.25 L55.69 60.26 L55.92 56.28 L56.13 52.29 L56.30 48.31 L56.48 44.32 L56.70 40.34 L57.06 36.35 L57.51 32.37 L58.04 28.38 L59.20 24.40 L60.26 26.97 L61.08 29.55 L61.52 32.12 L61.82 34.69 L62.22 37.27 L62.64 39.84 L62.98 42.41 L63.29 44.99 L63.58 47.56 L63.86 50.13 L64.15 52.71 L64.45 55.28 L64.76 57.85 L65.04 60.43 L65.30 63.00 L65.53 65.57 L65.76 68.15 L65.97 70.72 L66.17 73.29 L66.37 75.87 L66.57 78.44 L66.76 81.02 L66.96 83.59 L67.16 86.16 L67.37 88.74 L67.58 91.31 L67.81 93.88 L68.05 96.46 L68.30 99.03 L68.57 101.60 L68.85 104.18 L69.14 106.75 L69.44 109.32 L69.75 111.90 L70.07 114.47 L70.39 117.04 L70.72 119.62 L71.05 122.19 L71.39 124.76 L71.72 127.34 L72.06 129.91 L72.40 132.48 L72.74 135.06 L73.08 137.63 L73.41 140.20 L73.75 142.78 L74.10 145.35 L74.44 147.92 L74.79 150.50 L75.15 153.07 L75.51 155.64 L75.88 158.22 L76.26 160.79 L76.65 163.36 L77.05 165.94 L77.46 168.51 L77.88 171.08 L78.30 173.66 L78.74 176.23 L79.21 178.81 L79.70 181.38 L80.25 183.95 L80.85 186.53 L81.57 189.10 L82.38 191.67 L83.26 194.25 L84.18 196.82 L85.10 199.39 L86.05 201.97 L87.05 204.54 L88.13 207.11 L89.31 209.69 L90.61 212.26 L92.02 214.83 L93.51 217.41 L95.09 219.98 L96.78 222.55 L98.59 225.13 L100.50 227.70 L101.61 228.84 L102.62 229.74 L103.62 230.61 L104.62 231.47 L105.62 232.32 L106.62 233.14 L107.62 233.92 L108.63 234.65 L109.63 235.32 L110.63 235.91 L111.63 236.44 L112.63 236.91 L113.64 237.35 L114.64 237.77 L115.64 238.18 L116.64 238.60 L117.64 239.01 L118.65 239.40 L119.65 239.79 L120.65 240.17 L121.65 240.55 L122.65 240.92 L123.66 241.29 L124.66 241.64 L125.66 241.98 L126.66 242.30 L127.66 242.60 L128.66 242.88 L129.67 243.15 L130.67 243.42 L131.67 243.67 L132.67 243.92 L133.67 244.16 L134.68 244.39 L135.68 244.62 L136.68 244.84 L137.68 245.06 L138.68 245.27 L139.69 245.49 L140.69 245.70 L141.69 245.90 L142.69 246.08 L143.69 246.26 L144.70 246.41 L145.70 246.56 L146.70 246.69 L147.70 246.82 L148.70 246.94 L149.70 247.06 L150.71 247.18 L151.71 247.29 L152.71 247.41 L153.71 247.53 L154.71 247.64 L155.72 247.76 L156.72 247.87 L157.72 247.98 L158.72 248.09 L159.72 248.20 L160.73 248.31 L161.73 248.41 L162.73 248.51 L163.73 248.61 L164.73 248.71 L165.74 248.80 L166.74 248.90 L167.74 248.99 L168.74 249.08 L169.74 249.18 L170.75 249.27 L171.75 249.36 L172.75 249.45 L173.75 249.54 L174.75 249.63 L175.75 249.72 L176.76 249.81 L177.76 249.89 L178.76 249.98 L179.76 250.07 L180.76 250.16 L181.77 250.25 L182.77 250.34 L183.77 250.42 L184.77 250.51 L185.77 250.59 L186.78 250.67 L187.78 250.74 L188.78 250.82 L189.78 250.89 L190.78 250.96 L191.79 251.02 L192.79 251.09 L193.79 251.14 L194.79 251.20 L195.79 251.25 L196.79 251.30 L197.80 251.35 L198.80 251.40 L199.80 251.44 L200.80 251.49 L201.80 251.53 L202.81 251.57 L203.81 251.61 L204.81 251.65 L205.81 251.68 L206.81 251.71 L207.82 251.74 L208.82 251.77 L209.82 251.80 L210.82 251.83 L211.82 251.85 L212.83 251.87 L213.83 251.90 L214.83 251.92 L215.83 251.94 L216.83 251.96 L217.83 251.98 L218.84 252.00 L219.84 252.02 L220.84 252.04 L221.84 252.05 L222.84 252.07 L223.85 252.08 L224.85 252.09 L225.85 252.10 L225.65 252.10 L226.65 252.09 L227.65 252.08 L228.66 252.07 L229.66 252.05 L230.66 252.04 L231.66 252.02 L232.66 252.00 L233.67 251.98 L234.67 251.96 L235.67 251.94 L236.67 251.92 L237.67 251.90 L238.67 251.87 L239.68 251.85 L240.68 251.83 L241.68 251.80 L242.68 251.77 L243.68 251.74 L244.69 251.71 L245.69 251.68 L246.69 251.65 L247.69 251.61 L248.69 251.57 L249.70 251.53 L250.70 251.49 L251.70 251.44 L252.70 251.40 L253.70 251.35 L254.71 251.30 L255.71 251.25 L256.71 251.20 L257.71 251.14 L258.71 251.09 L259.71 251.02 L260.72 250.96 L261.72 250.89 L262.72 250.82 L263.72 250.74 L264.72 250.67 L265.73 250.59 L266.73 250.51 L267.73 250.42 L268.73 250.34 L269.73 250.25 L270.74 250.16 L271.74 250.07 L272.74 249.98 L273.74 249.89 L274.74 249.81 L275.75 249.72 L276.75 249.63 L277.75 249.54 L278.75 249.45 L279.75 249.36 L280.75 249.27 L281.76 249.18 L282.76 249.08 L283.76 248.99 L284.76 248.90 L285.76 248.80 L286.77 248.71 L287.77 248.61 L288.77 248.51 L289.77 248.41 L290.77 248.31 L291.78 248.20 L292.78 248.09 L293.78 247.98 L294.78 247.87 L295.78 247.76 L296.79 247.64 L297.79 247.53 L298.79 247.41 L299.79 247.29 L300.79 247.18 L301.80 247.06 L302.80 246.94 L303.80 246.82 L304.80 246.69 L305.80 246.56 L306.80 246.41 L307.81 246.26 L308.81 246.08 L309.81 245.90 L310.81 245.70 L311.81 245.49 L312.82 245.27 L313.82 245.06 L314.82 244.84 L315.82 244.62 L316.82 244.39 L317.83 244.16 L318.83 243.92 L319.83 243.67 L320.83 243.42 L321.83 243.15 L322.84 242.88 L323.84 242.60 L324.84 242.30 L325.84 241.98 L326.84 241.64 L327.84 241.29 L328.85 240.92 L329.85 240.55 L330.85 240.17 L331.85 239.79 L332.85 239.40 L333.86 239.01 L334.86 238.60 L335.86 238.18 L336.86 237.77 L337.86 237.35 L338.87 236.91 L339.87 236.44 L340.87 235.91 L341.87 235.32 L342.87 234.65 L343.88 233.92 L344.88 233.14 L345.88 232.32 L346.88 231.47 L347.88 230.61 L348.88 229.74 L349.89 228.84 L351.00 227.70 L352.91 225.13 L354.72 222.55 L356.41 219.98 L357.99 217.41 L359.48 214.83 L360.89 212.26 L362.19 209.69 L363.37 207.11 L364.45 204.54 L365.45 201.97 L366.40 199.39 L367.32 196.82 L368.24 194.25 L369.12 191.67 L369.93 189.10 L370.65 186.53 L371.25 183.95 L371.80 181.38 L372.29 178.81 L372.76 176.23 L373.20 173.66 L373.62 171.08 L374.04 168.51 L374.45 165.94 L374.85 163.36 L375.24 160.79 L375.62 158.22 L375.99 155.64 L376.35 153.07 L376.71 150.50 L377.06 147.92 L377.40 145.35 L377.75 142.78 L378.09 140.20 L378.42 137.63 L378.76 135.06 L379.10 132.48 L379.44 129.91 L379.78 127.34 L380.11 124.76 L380.45 122.19 L380.78 119.62 L381.11 117.04 L381.43 114.47 L381.75 111.90 L382.06 109.32 L382.36 106.75 L382.65 104.18 L382.93 101.60 L383.20 99.03 L383.45 96.46 L383.69 93.88 L383.92 91.31 L384.13 88.74 L384.34 86.16 L384.54 83.59 L384.74 81.02 L384.93 78.44 L385.13 75.87 L385.33 73.29 L385.53 70.72 L385.74 68.15 L385.97 65.57 L386.20 63.00 L386.46 60.43 L386.74 57.85 L387.05 55.28 L387.35 52.71 L387.64 50.13 L387.92 47.56 L388.21 44.99 L388.52 42.41 L388.86 39.84 L389.28 37.27 L389.68 34.69 L389.98 32.12 L390.42 29.55 L391.24 26.97 L392.30 24.40 L393.46 28.38 L393.99 32.37 L394.44 36.35 L394.80 40.34 L395.02 44.32 L395.20 48.31 L395.37 52.29 L395.58 56.28 L395.81 60.26 L396.01 64.25 L396.20 68.23 L396.38 72.22 L396.55 76.20 L396.72 80.19 L396.87 84.17 L397.03 88.16 L397.18 92.14 L397.33 96.13 L397.48 100.11 L397.62 104.09 L397.76 108.08 L397.90 112.06 L398.03 116.05 L398.16 120.03 L398.29 124.02 L398.42 128.00 L398.54 131.99 L398.66 135.97 L398.77 139.96 L398.87 143.94 L398.97 147.93 L399.07 151.91 L399.17 155.90 L399.28 159.88 L399.40 163.87 L399.52 167.85 L399.67 171.84 L399.86 175.82 L400.06 179.81 L400.29 183.79 L400.50 187.77 L400.70 191.76 L400.87 195.74 L401.01 199.73 L401.15 203.71 L401.27 207.70 L401.40 211.68 L401.53 215.67 L401.69 219.65 L401.85 223.64 L402.02 227.62 L402.20 231.61 L402.41 235.59 L402.67 239.58 L403.00 243.56 L403.44 247.55 L403.96 251.53 L404.56 255.52 L405.20 259.50 L410.20 259.50"/>
<path stroke="#ff8a1c" d="M41.30 259.50 L48.80 259.50 L49.67 255.34 L50.46 251.17 L51.13 247.01 L51.65 242.85 L51.99 238.69 L52.24 234.52 L52.44 230.36 L52.61 226.20 L52.74 222.04 L52.85 217.87 L52.95 213.71 L53.02 209.55 L53.09 205.38 L53.16 201.22 L53.23 197.06 L53.33 192.90 L53.44 188.73 L53.56 184.57 L53.68 180.41 L53.81 176.25 L53.94 172.08 L54.06 167.92 L54.17 163.76 L54.29 159.59 L54.40 155.43 L54.51 151.27 L54.62 147.11 L54.73 142.94 L54.85 138.78 L54.98 134.62 L55.12 130.46 L55.26 126.29 L55.42 122.13 L55.58 117.97 L55.74 113.81 L55.90 109.64 L56.05 105.48 L56.19 101.32 L56.33 97.15 L56.44 92.99 L56.54 88.83 L56.63 84.67 L56.72 80.50 L56.81 76.34 L56.91 72.18 L57.02 68.02 L57.16 63.85 L57.31 59.69 L57.56 55.53 L57.81 51.36 L58.05 47.20 L58.30 43.04 L58.58 38.88 L58.92 34.71 L59.35 30.55 L59.67 26.39 L59.98 22.23 L60.46 18.06 L61.80 13.90 L62.87 16.61 L63.30 19.31 L63.69 22.02 L64.05 24.73 L64.39 27.43 L64.72 30.14 L65.03 32.84 L65.35 35.55 L65.67 38.26 L66.01 40.96 L66.35 43.67 L66.70 46.38 L67.03 49.08 L67.35 51.79 L67.66 54.49 L67.94 57.20 L68.19 59.91 L68.42 62.61 L68.64 65.32 L68.84 68.03 L69.04 70.73 L69.22 73.44 L69.41 76.15 L69.59 78.85 L69.77 81.56 L69.95 84.26 L70.14 86.97 L70.33 89.68 L70.54 92.38 L70.75 95.09 L70.98 97.80 L71.22 100.50 L71.48 103.21 L71.74 105.92 L72.01 108.62 L72.29 111.33 L72.58 114.03 L72.88 116.74 L73.18 119.45 L73.49 122.15 L73.81 124.86 L74.13 127.57 L74.45 130.27 L74.78 132.98 L75.11 135.68 L75.44 138.39 L75.78 141.10 L76.13 143.80 L76.48 146.51 L76.85 149.22 L77.21 151.92 L77.59 154.63 L77.98 157.34 L78.37 160.04 L78.77 162.75 L79.19 165.45 L79.61 168.16 L80.04 170.87 L80.47 173.57 L80.91 176.28 L81.38 178.99 L81.89 181.69 L82.46 184.40 L83.10 187.11 L83.88 189.81 L84.77 192.52 L85.71 195.22 L86.68 197.93 L87.64 200.64 L88.64 203.34 L89.71 206.05 L90.87 208.76 L92.14 211.46 L93.53 214.17 L95.03 216.87 L96.63 219.58 L98.40 222.29 L100.33 224.99 L102.40 227.70 L103.42 228.86 L104.43 230.07 L105.43 231.33 L106.43 232.33 L107.44 233.24 L108.44 234.07 L109.45 234.82 L110.45 235.50 L111.45 236.11 L112.46 236.67 L113.46 237.18 L114.46 237.65 L115.47 238.11 L116.47 238.55 L117.47 238.97 L118.48 239.37 L119.48 239.75 L120.48 240.13 L121.49 240.51 L122.49 240.89 L123.49 241.26 L124.50 241.62 L125.50 241.97 L126.50 242.30 L127.51 242.61 L128.51 242.90 L129.52 243.19 L130.52 243.46 L131.52 243.73 L132.53 243.99 L133.53 244.24 L134.53 244.49 L135.54 244.73 L136.54 244.97 L137.54 245.20 L138.55 245.44 L139.55 245.67 L140.55 245.90 L141.56 246.12 L142.56 246.33 L143.56 246.52 L144.57 246.70 L145.57 246.86 L146.57 247.02 L147.58 247.17 L148.58 247.31 L149.58 247.44 L150.59 247.58 L151.59 247.71 L152.60 247.84 L153.60 247.97 L154.60 248.10 L155.61 248.22 L156.61 248.35 L157.61 248.46 L158.62 248.58 L159.62 248.69 L160.62 248.79 L161.63 248.90 L162.63 248.99 L163.63 249.09 L164.64 249.17 L165.64 249.26 L166.64 249.34 L167.65 249.42 L168.65 249.50 L169.65 249.58 L170.66 249.65 L171.66 249.73 L172.67 249.80 L173.67 249.87 L174.67 249.94 L175.68 250.01 L176.68 250.08 L177.68 250.15 L178.69 250.22 L179.69 250.29 L180.69 250.36 L181.70 250.43 L182.70 250.50 L183.70 250.57 L184.71 250.64 L185.71 250.71 L186.71 250.78 L187.72 250.84 L188.72 250.91 L189.72 250.97 L190.73 251.03 L191.73 251.08 L192.73 251.14 L193.74 251.19 L194.74 251.24 L195.75 251.28 L196.75 251.33 L197.75 251.37 L198.76 251.42 L199.76 251.46 L200.76 251.50 L201.77 251.54 L202.77 251.58 L203.77 251.62 L204.78 251.65 L205.78 251.69 L206.78 251.72 L207.79 251.75 L208.79 251.78 L209.79 251.80 L210.80 251.83 L211.80 251.85 L212.80 251.88 L213.81 251.90 L214.81 251.92 L215.82 251.94 L216.82 251.96 L217.82 251.98 L218.83 252.00 L219.83 252.02 L220.83 252.04 L221.84 252.05 L222.84 252.07 L223.84 252.08 L224.85 252.09 L225.85 252.10 L225.65 252.10 L226.65 252.09 L227.66 252.08 L228.66 252.07 L229.66 252.05 L230.67 252.04 L231.67 252.02 L232.67 252.00 L233.68 251.98 L234.68 251.96 L235.68 251.94 L236.69 251.92 L237.69 251.90 L238.70 251.88 L239.70 251.85 L240.70 251.83 L241.71 251.80 L242.71 251.78 L243.71 251.75 L244.72 251.72 L245.72 251.69 L246.72 251.65 L247.73 251.62 L248.73 251.58 L249.73 251.54 L250.74 251.50 L251.74 251.46 L252.74 251.42 L253.75 251.37 L254.75 251.33 L255.75 251.28 L256.76 251.24 L257.76 251.19 L258.77 251.14 L259.77 251.08 L260.77 251.03 L261.78 250.97 L262.78 250.91 L263.78 250.84 L264.79 250.78 L265.79 250.71 L266.79 250.64 L267.80 250.57 L268.80 250.50 L269.80 250.43 L270.81 250.36 L271.81 250.29 L272.81 250.22 L273.82 250.15 L274.82 250.08 L275.82 250.01 L276.83 249.94 L277.83 249.87 L278.83 249.80 L279.84 249.73 L280.84 249.65 L281.85 249.58 L282.85 249.50 L283.85 249.42 L284.86 249.34 L285.86 249.26 L286.86 249.17 L287.87 249.09 L288.87 248.99 L289.87 248.90 L290.88 248.79 L291.88 248.69 L292.88 248.58 L293.89 248.46 L294.89 248.35 L295.89 248.22 L296.90 248.10 L297.90 247.97 L298.90 247.84 L299.91 247.71 L300.91 247.58 L301.92 247.44 L302.92 247.31 L303.92 247.17 L304.93 247.02 L305.93 246.86 L306.93 246.70 L307.94 246.52 L308.94 246.33 L309.94 246.12 L310.95 245.90 L311.95 245.67 L312.95 245.44 L313.96 245.20 L314.96 244.97 L315.96 244.73 L316.97 244.49 L317.97 244.24 L318.97 243.99 L319.98 243.73 L320.98 243.46 L321.98 243.19 L322.99 242.90 L323.99 242.61 L325.00 242.30 L326.00 241.97 L327.00 241.62 L328.01 241.26 L329.01 240.89 L330.01 240.51 L331.02 240.13 L332.02 239.75 L333.02 239.37 L334.03 238.97 L335.03 238.55 L336.03 238.11 L337.04 237.65 L338.04 237.18 L339.04 236.67 L340.05 236.11 L341.05 235.50 L342.05 234.82 L343.06 234.07 L344.06 233.24 L345.07 232.33 L346.07 231.33 L347.07 230.07 L348.08 228.86 L349.10 227.70 L351.17 224.99 L353.10 222.29 L354.87 219.58 L356.47 216.87 L357.97 214.17 L359.36 211.46 L360.63 208.76 L361.79 206.05 L362.86 203.34 L363.86 200.64 L364.82 197.93 L365.79 195.22 L366.73 192.52 L367.62 189.81 L368.40 187.11 L369.04 184.40 L369.61 181.69 L370.12 178.99 L370.59 176.28 L371.03 173.57 L371.46 170.87 L371.89 168.16 L372.31 165.45 L372.73 162.75 L373.13 160.04 L373.52 157.34 L373.91 154.63 L374.29 151.92 L374.65 149.22 L375.02 146.51 L375.37 143.80 L375.72 141.10 L376.06 138.39 L376.39 135.68 L376.72 132.98 L377.05 130.27 L377.37 127.57 L377.69 124.86 L378.01 122.15 L378.32 119.45 L378.62 116.74 L378.92 114.03 L379.21 111.33 L379.49 108.62 L379.76 105.92 L380.02 103.21 L380.28 100.50 L380.52 97.80 L380.75 95.09 L380.96 92.38 L381.17 89.68 L381.36 86.97 L381.55 84.26 L381.73 81.56 L381.91 78.85 L382.09 76.15 L382.28 73.44 L382.46 70.73 L382.66 68.03 L382.86 65.32 L383.08 62.61 L383.31 59.91 L383.56 57.20 L383.84 54.49 L384.15 51.79 L384.47 49.08 L384.80 46.38 L385.15 43.67 L385.49 40.96 L385.83 38.26 L386.15 35.55 L386.47 32.84 L386.78 30.14 L387.11 27.43 L387.45 24.73 L387.81 22.02 L388.20 18.72 L388.63 15.42 L389.70 12.12 L391.04 17.20 L391.52 22.23 L391.83 26.39 L392.15 30.55 L392.58 34.71 L392.92 38.88 L393.20 43.04 L393.45 47.20 L393.69 51.36 L393.94 55.53 L394.19 59.69 L394.34 63.85 L394.48 68.02 L394.59 72.18 L394.69 76.34 L394.78 80.50 L394.87 84.67 L394.96 88.83 L395.06 92.99 L395.17 97.15 L395.31 101.32 L395.45 105.48 L395.60 109.64 L395.76 113.81 L395.92 117.97 L396.08 122.13 L396.24 126.29 L396.38 130.46 L396.52 134.62 L396.65 138.78 L396.77 142.94 L396.88 147.11 L396.99 151.27 L397.10 155.43 L397.21 159.59 L397.33 163.76 L397.44 167.92 L397.56 172.08 L397.69 176.25 L397.82 180.41 L397.94 184.57 L398.06 188.73 L398.17 192.90 L398.27 197.06 L398.34 201.22 L398.41 205.38 L398.48 209.55 L398.55 213.71 L398.65 217.87 L398.76 222.04 L398.89 226.20 L399.06 230.36 L399.26 234.52 L399.51 238.69 L399.85 242.85 L400.37 247.01 L401.04 251.17 L401.83 255.34 L402.70 259.50 L410.20 259.50"/>
<path stroke="#ff1010" opacity="0.7" d="M41.20 36.60 L47.20 34.50 L47.33 36.95 L47.51 39.39 L47.73 41.84 L47.99 44.28 L48.28 46.73 L48.68 49.17 L49.14 51.62 L49.58 54.06 L49.91 56.51 L50.19 58.96 L50.45 61.40 L50.71 63.85 L50.96 66.29 L51.20 68.74 L51.44 71.18 L51.67 73.63 L51.89 76.07 L52.12 78.52 L52.35 80.97 L52.58 83.41 L52.82 85.86 L53.06 88.30 L53.30 90.75 L53.56 93.19 L53.83 95.64 L54.11 98.08 L54.40 100.53 L54.70 102.98 L55.01 105.42 L55.33 107.87 L55.65 110.31 L55.99 112.76 L56.33 115.20 L56.68 117.65 L57.04 120.09 L57.40 122.54 L57.77 124.99 L58.15 127.43 L58.54 129.88 L58.93 132.32 L59.33 134.77 L59.73 137.21 L60.15 139.66 L60.58 142.11 L61.02 144.55 L61.47 147.00 L61.93 149.44 L62.39 151.89 L62.87 154.33 L63.36 156.78 L63.86 159.22 L64.36 161.67 L64.88 164.12 L65.40 166.56 L65.93 169.01 L66.47 171.45 L67.02 173.90 L67.58 176.34 L68.17 178.79 L68.79 181.23 L69.45 183.68 L70.17 186.13 L70.97 188.57 M380.53 188.57 L381.33 186.13 L382.05 183.68 L382.71 181.23 L383.33 178.79 L383.92 176.34 L384.48 173.90 L385.03 171.45 L385.57 169.01 L386.10 166.56 L386.62 164.12 L387.14 161.67 L387.64 159.22 L388.14 156.78 L388.63 154.33 L389.11 151.89 L389.57 149.44 L390.03 147.00 L390.48 144.55 L390.92 142.11 L391.35 139.66 L391.77 137.21 L392.17 134.77 L392.57 132.32 L392.96 129.88 L393.35 127.43 L393.73 124.99 L394.10 122.54 L394.46 120.09 L394.82 117.65 L395.17 115.20 L395.51 112.76 L395.85 110.31 L396.17 107.87 L396.49 105.42 L396.80 102.98 L397.10 100.53 L397.39 98.08 L397.67 95.64 L397.94 93.19 L398.20 90.75 L398.44 88.30 L398.68 85.86 L398.92 83.41 L399.15 80.97 L399.38 78.52 L399.61 76.07 L399.83 73.63 L400.06 71.18 L400.30 68.74 L400.54 66.29 L400.79 63.85 L401.05 61.40 L401.31 58.96 L401.59 56.51 L401.92 54.06 L402.36 51.62 L402.82 49.17 L403.22 46.73 L403.51 44.28 L403.77 41.84 L403.99 39.39 L404.17 36.95 L404.30 34.50 L410.30 36.60"/>
<path stroke="#ff1010" d="M41.20 259.50 L46.97 259.50 L52.74 257.70 L58.50 255.60 L64.30 253.30 L70.05 250.60 L75.80 247.40 L81.60 243.60 L87.40 239.30 L93.10 235.20 L98.90 230.40 L104.70 225.00 L110.40 220.90 L116.20 216.90 L122.00 213.40 L127.70 211.60 L133.50 209.80 L139.30 207.60 L145.10 206.30 L150.80 205.30 L156.60 204.10 L162.40 202.20 L168.10 200.50 L173.90 200.30 L179.70 199.40 L185.40 198.40 L191.20 198.30 L197.00 199.10 L202.80 200.20 L208.50 198.50 L214.30 197.70 L220.10 198.50 L225.85 197.40 L225.65 197.40 L231.40 198.50 L237.20 197.70 L243.00 198.50 L248.70 200.20 L254.50 199.10 L260.30 198.30 L266.10 198.40 L271.80 199.40 L277.60 200.30 L283.40 200.50 L289.10 202.20 L294.90 204.10 L300.70 205.30 L306.40 206.30 L312.20 207.60 L318.00 209.80 L323.80 211.60 L329.50 213.40 L335.30 216.90 L341.10 220.90 L346.80 225.00 L352.60 230.40 L358.40 235.20 L364.10 239.30 L369.90 243.60 L375.70 247.40 L381.45 250.60 L387.20 253.30 L393.00 255.60 L398.76 257.70 L404.53 259.50 L410.30 259.50"/>
<path stroke="#3a6cf4" d="M41.20 259.50 L42.20 259.50 L43.21 259.50 L44.21 259.50 L45.21 259.50 L46.22 259.50 L47.22 259.50 L48.22 259.50 L49.23 259.50 L50.23 259.50 L51.24 259.50 L52.24 259.50 L53.24 259.50 L54.25 259.50 L55.25 259.50 L56.25 259.50 L57.26 259.50 L58.26 259.50 L59.26 259.50 L60.27 259.50 L61.27 259.50 L62.27 259.50 L63.28 259.50 L64.28 259.50 L65.28 259.45 L66.29 259.34 L67.29 259.20 L68.30 259.04 L69.30 258.87 L70.30 258.69 L71.31 258.49 L72.31 258.25 L73.31 257.98 L74.32 257.65 L75.32 257.22 L76.32 256.75 L77.33 256.26 L78.33 255.76 L79.33 255.22 L80.34 254.66 L81.34 254.08 L82.34 253.45 L83.35 252.78 L84.35 252.08 L85.36 251.35 L86.36 250.59 L87.36 249.79 L88.37 248.96 L89.37 248.08 L90.37 247.16 L91.38 246.21 L92.38 245.22 L93.38 244.15 L94.39 243.03 L95.39 241.88 L96.39 240.72 L97.40 239.58 L98.40 238.46 L99.40 237.32 L100.41 236.07 L101.41 234.71 L102.42 233.50 L103.42 232.36 L104.42 231.28 L105.43 230.28 L106.43 229.37 L107.43 228.52 L108.44 227.68 L109.44 226.77 L110.44 225.80 L111.45 224.77 L112.45 223.74 L113.45 222.72 L114.46 221.74 L115.46 220.80 L116.46 219.87 L117.47 218.96 L118.47 218.09 L119.48 217.26 L120.48 216.48 L121.48 215.74 L122.49 215.04 L123.49 214.36 L124.49 213.70 L125.50 213.04 L126.50 212.41 L127.50 211.79 L128.51 211.18 L129.51 210.59 L130.51 210.00 L131.52 209.44 L132.52 208.89 L133.52 208.33 L134.53 207.77 L135.53 207.21 L136.54 206.65 L137.54 206.09 L138.54 205.53 L139.55 204.98 L140.55 204.43 L141.55 203.89 L142.56 203.36 L143.56 202.83 L144.56 202.30 L145.57 201.77 L146.57 201.25 L147.57 200.74 L148.58 200.24 L149.58 199.75 L150.59 199.28 L151.59 198.82 L152.59 198.35 L153.60 197.89 L154.60 197.45 L155.60 197.07 L156.61 196.77 L157.61 196.51 L158.61 196.27 L159.62 196.06 L160.62 195.90 L161.62 195.81 L162.63 195.77 L163.63 195.74 L164.63 195.70 L165.64 195.68 L166.64 195.66 L167.65 195.64 L168.65 195.62 L169.65 195.61 L170.66 195.60 L171.66 195.60 L172.66 195.61 L173.67 195.64 L174.67 195.69 L175.67 195.75 L176.68 195.81 L177.68 195.86 L178.68 195.89 L179.69 195.90 L180.69 195.88 L181.69 195.84 L182.70 195.79 L183.70 195.73 L184.71 195.67 L185.71 195.61 L186.71 195.54 L187.72 195.47 L188.72 195.39 L189.72 195.30 L190.73 195.20 L191.73 195.09 L192.73 194.96 L193.74 194.81 L194.74 194.59 L195.74 194.31 L196.75 194.01 L197.75 193.71 L198.75 193.43 L199.76 193.14 L200.76 192.83 L201.77 192.54 L202.77 192.29 L203.77 192.10 L204.78 191.97 L205.78 191.83 L206.78 191.72 L207.79 191.64 L208.79 191.60 L209.79 191.61 L210.80 191.65 L211.80 191.70 L212.80 191.77 L213.81 191.83 L214.81 191.88 L215.81 191.90 L216.82 191.90 L217.82 191.90 L218.83 191.90 L219.83 191.90 L220.83 191.90 L221.84 191.90 L222.84 191.90 L223.84 191.90 L224.85 191.90 L225.85 191.90 L225.65 191.90 L226.65 191.90 L227.66 191.90 L228.66 191.90 L229.66 191.90 L230.67 191.90 L231.67 191.90 L232.67 191.90 L233.68 191.90 L234.68 191.90 L235.69 191.90 L236.69 191.88 L237.69 191.83 L238.70 191.77 L239.70 191.70 L240.70 191.65 L241.71 191.61 L242.71 191.60 L243.71 191.64 L244.72 191.72 L245.72 191.83 L246.72 191.97 L247.73 192.10 L248.73 192.29 L249.73 192.54 L250.74 192.83 L251.74 193.14 L252.75 193.43 L253.75 193.71 L254.75 194.01 L255.76 194.31 L256.76 194.59 L257.76 194.81 L258.77 194.96 L259.77 195.09 L260.77 195.20 L261.78 195.30 L262.78 195.39 L263.78 195.47 L264.79 195.54 L265.79 195.61 L266.79 195.67 L267.80 195.73 L268.80 195.79 L269.81 195.84 L270.81 195.88 L271.81 195.90 L272.82 195.89 L273.82 195.86 L274.82 195.81 L275.83 195.75 L276.83 195.69 L277.83 195.64 L278.84 195.61 L279.84 195.60 L280.84 195.60 L281.85 195.61 L282.85 195.62 L283.85 195.64 L284.86 195.66 L285.86 195.68 L286.87 195.70 L287.87 195.74 L288.87 195.77 L289.88 195.81 L290.88 195.90 L291.88 196.06 L292.89 196.27 L293.89 196.51 L294.89 196.77 L295.90 197.07 L296.90 197.45 L297.90 197.89 L298.91 198.35 L299.91 198.82 L300.91 199.28 L301.92 199.75 L302.92 200.24 L303.93 200.74 L304.93 201.25 L305.93 201.77 L306.94 202.30 L307.94 202.83 L308.94 203.36 L309.95 203.89 L310.95 204.43 L311.95 204.98 L312.96 205.53 L313.96 206.09 L314.96 206.65 L315.97 207.21 L316.97 207.77 L317.98 208.33 L318.98 208.89 L319.98 209.44 L320.99 210.00 L321.99 210.59 L322.99 211.18 L324.00 211.79 L325.00 212.41 L326.00 213.04 L327.01 213.70 L328.01 214.36 L329.01 215.04 L330.02 215.74 L331.02 216.48 L332.02 217.26 L333.03 218.09 L334.03 218.96 L335.04 219.87 L336.04 220.80 L337.04 221.74 L338.05 222.72 L339.05 223.74 L340.05 224.77 L341.06 225.80 L342.06 226.77 L343.06 227.68 L344.07 228.52 L345.07 229.37 L346.07 230.28 L347.08 231.28 L348.08 232.36 L349.08 233.50 L350.09 234.71 L351.09 236.07 L352.10 237.32 L353.10 238.46 L354.10 239.58 L355.11 240.72 L356.11 241.88 L357.11 243.03 L358.12 244.15 L359.12 245.22 L360.12 246.21 L361.13 247.16 L362.13 248.08 L363.13 248.96 L364.14 249.79 L365.14 250.59 L366.14 251.35 L367.15 252.08 L368.15 252.78 L369.16 253.45 L370.16 254.08 L371.16 254.66 L372.17 255.22 L373.17 255.76 L374.17 256.26 L375.18 256.75 L376.18 257.22 L377.18 257.65 L378.19 257.98 L379.19 258.25 L380.19 258.49 L381.20 258.69 L382.20 258.87 L383.20 259.04 L384.21 259.20 L385.21 259.34 L386.22 259.45 L387.22 259.50 L388.22 259.50 L389.23 259.50 L390.23 259.50 L391.23 259.50 L392.24 259.50 L393.24 259.50 L394.24 259.50 L395.25 259.50 L396.25 259.50 L397.25 259.50 L398.26 259.50 L399.26 259.50 L400.26 259.50 L401.27 259.50 L402.27 259.50 L403.28 259.50 L404.28 259.50 L405.28 259.50 L406.29 259.50 L407.29 259.50 L408.29 259.50 L409.30 259.50 L410.30 259.50"/>
<path stroke="#357a35" d="M41.20 259.50 L42.20 259.50 L43.21 259.50 L44.21 259.50 L45.21 259.50 L46.22 259.50 L47.22 259.50 L48.22 259.50 L49.23 259.50 L50.23 259.50 L51.24 259.50 L52.24 259.50 L53.24 259.50 L54.25 259.50 L55.25 259.50 L56.25 259.50 L57.26 259.50 L58.26 259.50 L59.26 259.50 L60.27 259.50 L61.27 259.50 L62.27 259.50 L63.28 259.50 L64.28 259.50 L65.28 259.50 L66.29 259.50 L67.29 259.50 L68.30 259.50 L69.30 259.50 L70.30 259.50 L71.31 259.50 L72.31 259.50 L73.31 259.50 L74.32 259.50 L75.32 259.50 L76.32 259.49 L77.33 259.38 L78.33 259.17 L79.33 258.90 L80.34 258.60 L81.34 258.32 L82.34 258.04 L83.35 257.72 L84.35 257.37 L85.36 257.00 L86.36 256.61 L87.36 256.19 L88.37 255.72 L89.37 255.21 L90.37 254.64 L91.38 253.98 L92.38 253.24 L93.38 252.43 L94.39 251.54 L95.39 250.59 L96.39 249.58 L97.40 248.53 L98.40 247.44 L99.40 246.29 L100.41 244.99 L101.41 243.56 L102.42 242.08 L103.42 240.56 L104.42 238.91 L105.43 237.16 L106.43 235.41 L107.43 233.72 L108.44 232.17 L109.44 230.81 L110.44 229.54 L111.45 228.35 L112.45 227.20 L113.45 226.08 L114.46 224.95 L115.46 223.81 L116.46 222.69 L117.47 221.59 L118.47 220.51 L119.48 219.44 L120.48 218.40 L121.48 217.37 L122.49 216.37 L123.49 215.37 L124.49 214.39 L125.50 213.41 L126.50 212.37 L127.50 211.32 L128.51 210.30 L129.51 209.35 L130.51 208.54 L131.52 207.87 L132.52 207.29 L133.52 206.76 L134.53 206.27 L135.53 205.81 L136.54 205.38 L137.54 204.96 L138.54 204.55 L139.55 204.14 L140.55 203.72 L141.55 203.30 L142.56 202.88 L143.56 202.48 L144.56 202.08 L145.57 201.68 L146.57 201.30 L147.57 200.91 L148.58 200.52 L149.58 200.13 L150.59 199.74 L151.59 199.35 L152.59 198.96 L153.60 198.57 L154.60 198.19 L155.60 197.81 L156.61 197.43 L157.61 197.04 L158.61 196.64 L159.62 196.23 L160.62 195.81 L161.62 195.38 L162.63 194.93 L163.63 194.46 L164.63 193.98 L165.64 193.48 L166.64 192.96 L167.65 192.41 L168.65 191.83 L169.65 191.17 L170.66 190.48 L171.66 189.81 L172.66 189.18 L173.67 188.52 L174.67 187.98 L175.67 187.68 L176.68 187.44 L177.68 187.25 L178.68 187.13 L179.69 187.10 L180.69 187.15 L181.69 187.25 L182.70 187.37 L183.70 187.50 L184.71 187.64 L185.71 187.80 L186.71 187.98 L187.72 188.17 L188.72 188.36 L189.72 188.59 L190.73 188.83 L191.73 189.05 L192.73 189.23 L193.74 189.37 L194.74 189.48 L195.74 189.57 L196.75 189.66 L197.75 189.74 L198.75 189.82 L199.76 189.92 L200.76 190.02 L201.77 190.11 L202.77 190.17 L203.77 190.20 L204.78 190.19 L205.78 190.17 L206.78 190.14 L207.79 190.12 L208.79 190.10 L209.79 190.12 L210.80 190.25 L211.80 190.45 L212.80 190.67 L213.81 191.00 L214.81 191.41 L215.81 191.81 L216.82 192.13 L217.82 192.40 L218.83 192.65 L219.83 192.85 L220.83 192.99 L221.84 193.06 L222.84 193.11 L223.84 193.16 L224.85 193.19 L225.85 193.20 L225.65 193.20 L226.65 193.19 L227.66 193.16 L228.66 193.11 L229.66 193.06 L230.67 192.99 L231.67 192.85 L232.67 192.65 L233.68 192.40 L234.68 192.13 L235.69 191.81 L236.69 191.41 L237.69 191.00 L238.70 190.67 L239.70 190.45 L240.70 190.25 L241.71 190.12 L242.71 190.10 L243.71 190.12 L244.72 190.14 L245.72 190.17 L246.72 190.19 L247.73 190.20 L248.73 190.17 L249.73 190.11 L250.74 190.02 L251.74 189.92 L252.75 189.82 L253.75 189.74 L254.75 189.66 L255.76 189.57 L256.76 189.48 L257.76 189.37 L258.77 189.23 L259.77 189.05 L260.77 188.83 L261.78 188.59 L262.78 188.36 L263.78 188.17 L264.79 187.98 L265.79 187.80 L266.79 187.64 L267.80 187.50 L268.80 187.37 L269.81 187.25 L270.81 187.15 L271.81 187.10 L272.82 187.13 L273.82 187.25 L274.82 187.44 L275.83 187.68 L276.83 187.98 L277.83 188.52 L278.84 189.18 L279.84 189.81 L280.84 190.48 L281.85 191.17 L282.85 191.83 L283.85 192.41 L284.86 192.96 L285.86 193.48 L286.87 193.98 L287.87 194.46 L288.87 194.93 L289.88 195.38 L290.88 195.81 L291.88 196.23 L292.89 196.64 L293.89 197.04 L294.89 197.43 L295.90 197.81 L296.90 198.19 L297.90 198.57 L298.91 198.96 L299.91 199.35 L300.91 199.74 L301.92 200.13 L302.92 200.52 L303.93 200.91 L304.93 201.30 L305.93 201.68 L306.94 202.08 L307.94 202.48 L308.94 202.88 L309.95 203.30 L310.95 203.72 L311.95 204.14 L312.96 204.55 L313.96 204.96 L314.96 205.38 L315.97 205.81 L316.97 206.27 L317.98 206.76 L318.98 207.29 L319.98 207.87 L320.99 208.54 L321.99 209.35 L322.99 210.30 L324.00 211.32 L325.00 212.37 L326.00 213.41 L327.01 214.39 L328.01 215.37 L329.01 216.37 L330.02 217.37 L331.02 218.40 L332.02 219.44 L333.03 220.51 L334.03 221.59 L335.04 222.69 L336.04 223.81 L337.04 224.95 L338.05 226.08 L339.05 227.20 L340.05 228.35 L341.06 229.54 L342.06 230.81 L343.06 232.17 L344.07 233.72 L345.07 235.41 L346.07 237.16 L347.08 238.91 L348.08 240.56 L349.08 242.08 L350.09 243.56 L351.09 244.99 L352.10 246.29 L353.10 247.44 L354.10 248.53 L355.11 249.58 L356.11 250.59 L357.11 251.54 L358.12 252.43 L359.12 253.24 L360.12 253.98 L361.13 254.64 L362.13 255.21 L363.13 255.72 L364.14 256.19 L365.14 256.61 L366.14 257.00 L367.15 257.37 L368.15 257.72 L369.16 258.04 L370.16 258.32 L371.16 258.60 L372.17 258.90 L373.17 259.17 L374.17 259.38 L375.18 259.49 L376.18 259.50 L377.18 259.50 L378.19 259.50 L379.19 259.50 L380.19 259.50 L381.20 259.50 L382.20 259.50 L383.20 259.50 L384.21 259.50 L385.21 259.50 L386.22 259.50 L387.22 259.50 L388.22 259.50 L389.23 259.50 L390.23 259.50 L391.23 259.50 L392.24 259.50 L393.24 259.50 L394.24 259.50 L395.25 259.50 L396.25 259.50 L397.25 259.50 L398.26 259.50 L399.26 259.50 L400.26 259.50 L401.27 259.50 L402.27 259.50 L403.28 259.50 L404.28 259.50 L405.28 259.50 L406.29 259.50 L407.29 259.50 L408.29 259.50 L409.30 259.50 L410.30 259.50"/>
<path stroke="#663399" d="M41.20 259.50 L42.20 259.50 L43.21 259.50 L44.21 259.50 L45.21 259.50 L46.22 259.50 L47.22 259.50 L48.22 259.50 L49.23 259.50 L50.23 259.50 L51.24 259.50 L52.24 259.50 L53.24 259.50 L54.25 259.50 L55.25 259.50 L56.25 259.50 L57.26 259.50 L58.26 259.50 L59.26 259.50 L60.27 259.50 L61.27 259.50 L62.27 259.50 L63.28 259.50 L64.28 259.50 L65.28 259.50 L66.29 259.50 L67.29 259.50 L68.30 259.50 L69.30 259.50 L70.30 259.50 L71.31 259.50 L72.31 259.50 L73.31 259.50 L74.32 259.50 L75.32 259.50 L76.32 259.50 L77.33 259.50 L78.33 259.50 L79.33 259.50 L80.34 259.50 L81.34 259.50 L82.34 259.50 L83.35 259.50 L84.35 259.50 L85.36 259.38 L86.36 259.07 L87.36 258.77 L88.37 258.42 L89.37 258.04 L90.37 257.61 L91.38 257.15 L92.38 256.66 L93.38 256.09 L94.39 255.44 L95.39 254.69 L96.39 253.80 L97.40 252.79 L98.40 251.72 L99.40 250.65 L100.41 249.55 L101.41 248.38 L102.42 247.11 L103.42 245.69 L104.42 244.13 L105.43 242.51 L106.43 240.92 L107.43 239.27 L108.44 237.57 L109.44 235.90 L110.44 234.29 L111.45 232.81 L112.45 231.51 L113.45 230.38 L114.46 229.25 L115.46 228.05 L116.46 226.82 L117.47 225.59 L118.47 224.37 L119.48 223.18 L120.48 222.03 L121.48 220.93 L122.49 219.84 L123.49 218.76 L124.49 217.67 L125.50 216.55 L126.50 215.37 L127.50 214.17 L128.51 213.00 L129.51 211.90 L130.51 210.90 L131.52 209.96 L132.52 209.06 L133.52 208.19 L134.53 207.36 L135.53 206.54 L136.54 205.74 L137.54 204.95 L138.54 204.16 L139.55 203.37 L140.55 202.57 L141.55 201.75 L142.56 200.91 L143.56 200.04 L144.56 199.15 L145.57 198.25 L146.57 197.36 L147.57 196.48 L148.58 195.64 L149.58 194.84 L150.59 194.09 L151.59 193.37 L152.59 192.76 L153.60 192.55 L154.60 192.43 L155.60 192.36 L156.61 192.31 L157.61 192.27 L158.61 192.24 L159.62 192.20 L160.62 192.16 L161.62 192.11 L162.63 192.03 L163.63 191.93 L164.63 191.80 L165.64 191.66 L166.64 191.51 L167.65 191.37 L168.65 191.24 L169.65 191.09 L170.66 190.94 L171.66 190.82 L172.66 190.77 L173.67 190.73 L174.67 190.70 L175.67 190.68 L176.68 190.64 L177.68 190.57 L178.68 190.43 L179.69 190.21 L180.69 189.94 L181.69 189.62 L182.70 189.26 L183.70 188.68 L184.71 187.89 L185.71 187.13 L186.71 186.62 L187.72 186.37 L188.72 186.15 L189.72 185.99 L190.73 185.91 L191.73 185.94 L192.73 186.11 L193.74 186.34 L194.74 186.54 L195.74 186.63 L196.75 186.69 L197.75 186.74 L198.75 186.77 L199.76 186.81 L200.76 186.84 L201.77 186.87 L202.77 186.89 L203.77 186.90 L204.78 186.89 L205.78 186.85 L206.78 186.79 L207.79 186.72 L208.79 186.64 L209.79 186.55 L210.80 186.43 L211.80 186.27 L212.80 186.10 L213.81 185.93 L214.81 185.77 L215.81 185.62 L216.82 185.48 L217.82 185.34 L218.83 185.18 L219.83 185.01 L220.83 184.79 L221.84 184.54 L222.84 184.33 L223.84 184.22 L224.85 184.14 L225.85 184.10 L225.65 184.10 L226.65 184.14 L227.66 184.22 L228.66 184.33 L229.66 184.54 L230.67 184.79 L231.67 185.01 L232.67 185.18 L233.68 185.34 L234.68 185.48 L235.69 185.62 L236.69 185.77 L237.69 185.93 L238.70 186.10 L239.70 186.27 L240.70 186.43 L241.71 186.55 L242.71 186.64 L243.71 186.72 L244.72 186.79 L245.72 186.85 L246.72 186.89 L247.73 186.90 L248.73 186.89 L249.73 186.87 L250.74 186.84 L251.74 186.81 L252.75 186.77 L253.75 186.74 L254.75 186.69 L255.76 186.63 L256.76 186.54 L257.76 186.34 L258.77 186.11 L259.77 185.94 L260.77 185.91 L261.78 185.99 L262.78 186.15 L263.78 186.37 L264.79 186.62 L265.79 187.13 L266.79 187.89 L267.80 188.68 L268.80 189.26 L269.81 189.62 L270.81 189.94 L271.81 190.21 L272.82 190.43 L273.82 190.57 L274.82 190.64 L275.83 190.68 L276.83 190.70 L277.83 190.73 L278.84 190.77 L279.84 190.82 L280.84 190.94 L281.85 191.09 L282.85 191.24 L283.85 191.37 L284.86 191.51 L285.86 191.66 L286.87 191.80 L287.87 191.93 L288.87 192.03 L289.88 192.11 L290.88 192.16 L291.88 192.20 L292.89 192.24 L293.89 192.27 L294.89 192.31 L295.90 192.36 L296.90 192.43 L297.90 192.55 L298.91 192.76 L299.91 193.37 L300.91 194.09 L301.92 194.84 L302.92 195.64 L303.93 196.48 L304.93 197.36 L305.93 198.25 L306.94 199.15 L307.94 200.04 L308.94 200.91 L309.95 201.75 L310.95 202.57 L311.95 203.37 L312.96 204.16 L313.96 204.95 L314.96 205.74 L315.97 206.54 L316.97 207.36 L317.98 208.19 L318.98 209.06 L319.98 209.96 L320.99 210.90 L321.99 211.90 L322.99 213.00 L324.00 214.17 L325.00 215.37 L326.00 216.55 L327.01 217.67 L328.01 218.76 L329.01 219.84 L330.02 220.93 L331.02 222.03 L332.02 223.18 L333.03 224.37 L334.03 225.59 L335.04 226.82 L336.04 228.05 L337.04 229.25 L338.05 230.38 L339.05 231.51 L340.05 232.81 L341.06 234.29 L342.06 235.90 L343.06 237.57 L344.07 239.27 L345.07 240.92 L346.07 242.51 L347.08 244.13 L348.08 245.69 L349.08 247.11 L350.09 248.38 L351.09 249.55 L352.10 250.65 L353.10 251.72 L354.10 252.79 L355.11 253.80 L356.11 254.69 L357.11 255.44 L358.12 256.09 L359.12 256.66 L360.12 257.15 L361.13 257.61 L362.13 258.04 L363.13 258.42 L364.14 258.77 L365.14 259.07 L366.14 259.38 L367.15 259.50 L368.15 259.50 L369.16 259.50 L370.16 259.50 L371.16 259.50 L372.17 259.50 L373.17 259.50 L374.17 259.50 L375.18 259.50 L376.18 259.50 L377.18 259.50 L378.19 259.50 L379.19 259.50 L380.19 259.50 L381.20 259.50 L382.20 259.50 L383.20 259.50 L384.21 259.50 L385.21 259.50 L386.22 259.50 L387.22 259.50 L388.22 259.50 L389.23 259.50 L390.23 259.50 L391.23 259.50 L392.24 259.50 L393.24 259.50 L394.24 259.50 L395.25 259.50 L396.25 259.50 L397.25 259.50 L398.26 259.50 L399.26 259.50 L400.26 259.50 L401.27 259.50 L402.27 259.50 L403.28 259.50 L404.28 259.50 L405.28 259.50 L406.29 259.50 L407.29 259.50 L408.29 259.50 L409.30 259.50 L410.30 259.50"/>
<path stroke="#ff8a1c" d="M41.20 259.50 L42.20 259.50 L43.21 259.50 L44.21 259.50 L45.21 259.50 L46.22 259.50 L47.22 259.50 L48.22 259.50 L49.23 259.50 L50.23 259.50 L51.24 259.50 L52.24 259.50 L53.24 259.50 L54.25 259.50 L55.25 259.50 L56.25 259.50 L57.26 259.50 L58.26 259.50 L59.26 259.50 L60.27 259.50 L61.27 259.50 L62.27 259.50 L63.28 259.50 L64.28 259.50 L65.28 259.50 L66.29 259.50 L67.29 259.50 L68.30 259.50 L69.30 259.50 L70.30 259.50 L71.31 259.50 L72.31 259.50 L73.31 259.50 L74.32 259.50 L75.32 259.50 L76.32 259.50 L77.33 259.50 L78.33 259.50 L79.33 259.50 L80.34 259.50 L81.34 259.50 L82.34 259.50 L83.35 259.50 L84.35 259.50 L85.36 259.50 L86.36 259.50 L87.36 259.50 L88.37 259.47 L89.37 259.23 L90.37 258.91 L91.38 258.46 L92.38 257.93 L93.38 257.37 L94.39 256.78 L95.39 256.13 L96.39 255.42 L97.40 254.64 L98.40 253.72 L99.40 252.70 L100.41 251.64 L101.41 250.59 L102.42 249.60 L103.42 248.65 L104.42 247.71 L105.43 246.74 L106.43 245.70 L107.43 244.56 L108.44 243.26 L109.44 241.83 L110.44 240.33 L111.45 238.82 L112.45 237.26 L113.45 235.66 L114.46 234.07 L115.46 232.49 L116.46 230.90 L117.47 229.26 L118.47 227.64 L119.48 226.12 L120.48 224.74 L121.48 223.47 L122.49 222.25 L123.49 221.05 L124.49 219.85 L125.50 218.60 L126.50 217.29 L127.50 215.97 L128.51 214.67 L129.51 213.45 L130.51 212.34 L131.52 211.29 L132.52 210.29 L133.52 209.32 L134.53 208.39 L135.53 207.47 L136.54 206.58 L137.54 205.69 L138.54 204.81 L139.55 203.92 L140.55 203.03 L141.55 202.11 L142.56 201.17 L143.56 200.20 L144.56 199.21 L145.57 198.21 L146.57 197.22 L147.57 196.24 L148.58 195.30 L149.58 194.39 L150.59 193.54 L151.59 192.72 L152.59 192.00 L153.60 191.60 L154.60 191.31 L155.60 191.03 L156.61 190.75 L157.61 190.49 L158.61 190.23 L159.62 189.98 L160.62 189.72 L161.62 189.45 L162.63 189.14 L163.63 188.76 L164.63 188.37 L165.64 188.00 L166.64 187.70 L167.65 187.53 L168.65 187.50 L169.65 187.50 L170.66 187.50 L171.66 187.50 L172.66 187.50 L173.67 187.50 L174.67 187.50 L175.67 187.50 L176.68 187.50 L177.68 187.51 L178.68 187.64 L179.69 187.86 L180.69 188.15 L181.69 188.45 L182.70 188.73 L183.70 189.07 L184.71 189.42 L185.71 189.60 L186.71 189.51 L187.72 189.28 L188.72 188.98 L189.72 188.63 L190.73 188.13 L191.73 187.61 L192.73 187.21 L193.74 187.02 L194.74 186.90 L195.74 186.82 L196.75 186.74 L197.75 186.66 L198.75 186.58 L199.76 186.49 L200.76 186.42 L201.77 186.33 L202.77 186.23 L203.77 186.10 L204.78 185.86 L205.78 185.48 L206.78 185.02 L207.79 184.58 L208.79 184.22 L209.79 184.00 L210.80 183.81 L211.80 183.64 L212.80 183.50 L213.81 183.42 L214.81 183.40 L215.81 183.47 L216.82 183.61 L217.82 183.80 L218.83 184.03 L219.83 184.28 L220.83 184.67 L221.84 185.22 L222.84 185.71 L223.84 186.01 L224.85 186.25 L225.85 186.40 L225.65 186.40 L226.65 186.25 L227.66 186.01 L228.66 185.71 L229.66 185.22 L230.67 184.67 L231.67 184.28 L232.67 184.03 L233.68 183.80 L234.68 183.61 L235.69 183.47 L236.69 183.40 L237.69 183.42 L238.70 183.50 L239.70 183.64 L240.70 183.81 L241.71 184.00 L242.71 184.22 L243.71 184.58 L244.72 185.02 L245.72 185.48 L246.72 185.86 L247.73 186.10 L248.73 186.23 L249.73 186.33 L250.74 186.42 L251.74 186.49 L252.75 186.58 L253.75 186.66 L254.75 186.74 L255.76 186.82 L256.76 186.90 L257.76 187.02 L258.77 187.21 L259.77 187.61 L260.77 188.13 L261.78 188.63 L262.78 188.98 L263.78 189.28 L264.79 189.51 L265.79 189.60 L266.79 189.42 L267.80 189.07 L268.80 188.73 L269.81 188.45 L270.81 188.15 L271.81 187.86 L272.82 187.64 L273.82 187.51 L274.82 187.50 L275.83 187.50 L276.83 187.50 L277.83 187.50 L278.84 187.50 L279.84 187.50 L280.84 187.50 L281.85 187.50 L282.85 187.50 L283.85 187.53 L284.86 187.70 L285.86 188.00 L286.87 188.37 L287.87 188.76 L288.87 189.14 L289.88 189.45 L290.88 189.72 L291.88 189.98 L292.89 190.23 L293.89 190.49 L294.89 190.75 L295.90 191.03 L296.90 191.31 L297.90 191.60 L298.91 192.00 L299.91 192.72 L300.91 193.54 L301.92 194.39 L302.92 195.30 L303.93 196.24 L304.93 197.22 L305.93 198.21 L306.94 199.21 L307.94 200.20 L308.94 201.17 L309.95 202.11 L310.95 203.03 L311.95 203.92 L312.96 204.81 L313.96 205.69 L314.96 206.58 L315.97 207.47 L316.97 208.39 L317.98 209.32 L318.98 210.29 L319.98 211.29 L320.99 212.34 L321.99 213.45 L322.99 214.67 L324.00 215.97 L325.00 217.29 L326.00 218.60 L327.01 219.85 L328.01 221.05 L329.01 222.25 L330.02 223.47 L331.02 224.74 L332.02 226.12 L333.03 227.64 L334.03 229.26 L335.04 230.90 L336.04 232.49 L337.04 234.07 L338.05 235.66 L339.05 237.26 L340.05 238.82 L341.06 240.33 L342.06 241.83 L343.06 243.26 L344.07 244.56 L345.07 245.70 L346.07 246.74 L347.08 247.71 L348.08 248.65 L349.08 249.60 L350.09 250.59 L351.09 251.64 L352.10 252.70 L353.10 253.72 L354.10 254.64 L355.11 255.42 L356.11 256.13 L357.11 256.78 L358.12 257.37 L359.12 257.93 L360.12 258.46 L361.13 258.91 L362.13 259.23 L363.13 259.47 L364.14 259.50 L365.14 259.50 L366.14 259.50 L367.15 259.50 L368.15 259.50 L369.16 259.50 L370.16 259.50 L371.16 259.50 L372.17 259.50 L373.17 259.50 L374.17 259.50 L375.18 259.50 L376.18 259.50 L377.18 259.50 L378.19 259.50 L379.19 259.50 L380.19 259.50 L381.20 259.50 L382.20 259.50 L383.20 259.50 L384.21 259.50 L385.21 259.50 L386.22 259.50 L387.22 259.50 L388.22 259.50 L389.23 259.50 L390.23 259.50 L391.23 259.50 L392.24 259.50 L393.24 259.50 L394.24 259.50 L395.25 259.50 L396.25 259.50 L397.25 259.50 L398.26 259.50 L399.26 259.50 L400.26 259.50 L401.27 259.50 L402.27 259.50 L403.28 259.50 L404.28 259.50 L405.28 259.50 L406.29 259.50 L407.29 259.50 L408.29 259.50 L409.30 259.50 L410.30 259.50"/>
</g>
<path d="M41.30 259.50 V255.90 M44.99 259.50 V257.70 M48.68 259.50 V257.70 M52.37 259.50 V257.70 M56.06 259.50 V257.70 M59.74 259.50 V257.70 M63.43 259.50 V257.70 M67.12 259.50 V257.70 M70.81 259.50 V257.70 M74.50 259.50 V257.70 M78.19 259.50 V255.90 M81.88 259.50 V257.70 M85.57 259.50 V257.70 M89.26 259.50 V257.70 M92.95 259.50 V257.70 M96.63 259.50 V257.70 M100.32 259.50 V257.70 M104.01 259.50 V257.70 M107.70 259.50 V257.70 M111.39 259.50 V257.70 M115.08 259.50 V255.90 M118.77 259.50 V257.70 M122.46 259.50 V257.70 M126.15 259.50 V257.70 M129.84 259.50 V257.70 M133.52 259.50 V257.70 M137.21 259.50 V257.70 M140.90 259.50 V257.70 M144.59 259.50 V257.70 M148.28 259.50 V257.70 M151.97 259.50 V255.90 M155.66 259.50 V257.70 M159.35 259.50 V257.70 M163.04 259.50 V257.70 M166.73 259.50 V257.70 M170.42 259.50 V257.70 M174.10 259.50 V257.70 M177.79 259.50 V257.70 M181.48 259.50 V257.70 M185.17 259.50 V257.70 M188.86 259.50 V255.90 M192.55 259.50 V257.70 M196.24 259.50 V257.70 M199.93 259.50 V257.70 M203.62 259.50 V257.70 M207.31 259.50 V257.70 M210.99 259.50 V257.70 M214.68 259.50 V257.70 M218.37 259.50 V257.70 M222.06 259.50 V257.70 M225.75 259.50 V255.90 M229.44 259.50 V257.70 M233.13 259.50 V257.70 M236.82 259.50 V257.70 M240.51 259.50 V257.70 M244.19 259.50 V257.70 M247.88 259.50 V257.70 M251.57 259.50 V257.70 M255.26 259.50 V257.70 M258.95 259.50 V257.70 M262.64 259.50 V255.90 M266.33 259.50 V257.70 M270.02 259.50 V257.70 M273.71 259.50 V257.70 M277.40 259.50 V257.70 M281.08 259.50 V257.70 M284.77 259.50 V257.70 M288.46 259.50 V257.70 M292.15 259.50 V257.70 M295.84 259.50 V257.70 M299.53 259.50 V255.90 M303.22 259.50 V257.70 M306.91 259.50 V257.70 M310.60 259.50 V257.70 M314.29 259.50 V257.70 M317.98 259.50 V257.70 M321.66 259.50 V257.70 M325.35 259.50 V257.70 M329.04 259.50 V257.70 M332.73 259.50 V257.70 M336.42 259.50 V255.90 M340.11 259.50 V257.70 M343.80 259.50 V257.70 M347.49 259.50 V257.70 M351.18 259.50 V257.70 M354.86 259.50 V257.70 M358.55 259.50 V257.70 M362.24 259.50 V257.70 M365.93 259.50 V257.70 M369.62 259.50 V257.70 M373.31 259.50 V255.90 M377.00 259.50 V257.70 M380.69 259.50 V257.70 M384.38 259.50 V257.70 M388.07 259.50 V257.70 M391.75 259.50 V257.70 M395.44 259.50 V257.70 M399.13 259.50 V257.70 M402.82 259.50 V257.70 M406.51 259.50 V257.70 M410.20 259.50 V255.90 M41.30 259.75 H44.90 M41.30 251.68 H43.20 M41.30 243.61 H43.20 M41.30 235.54 H43.20 M41.30 227.47 H43.20 M41.30 219.40 H43.20 M41.30 211.33 H43.20 M41.30 203.26 H43.20 M41.30 195.19 H43.20 M41.30 187.12 H43.20 M41.30 179.05 H44.90 M41.30 170.98 H43.20 M41.30 162.91 H43.20 M41.30 154.84 H43.20 M41.30 146.77 H43.20 M41.30 138.70 H43.20 M41.30 130.63 H43.20 M41.30 122.56 H43.20 M41.30 114.49 H43.20 M41.30 106.42 H43.20 M41.30 98.35 H44.90 M41.30 90.28 H43.20 M41.30 82.21 H43.20 M41.30 74.14 H43.20 M41.30 66.07 H43.20 M41.30 58.00 H43.20 M41.30 49.93 H43.20 M41.30 41.86 H43.20 M41.30 33.79 H43.20 M41.30 25.72 H43.20 M41.30 17.65 H44.90 M41.30 9.58 H43.20 M41.30 1.51 H43.20" stroke="#000" stroke-width="0.8" fill="none" opacity="0.5"/>
<rect x="41.30" y="1.50" width="368.90" height="258.00" fill="none" stroke="#181818" stroke-width="1.0" opacity="0.62"/>
<rect x="185.5" y="17.5" width="81" height="77" fill="#fff" stroke="#1a1a1a" stroke-width="1"/>
<g class="t">
<g font-size="15.3">
<text x="41.00" y="277.6" text-anchor="middle">-1</text>
<text x="77.89" y="277.6" text-anchor="middle">-0.8</text>
<text x="114.78" y="277.6" text-anchor="middle">-0.6</text>
<text x="151.67" y="277.6" text-anchor="middle">-0.4</text>
<text x="188.56" y="277.6" text-anchor="middle">-0.2</text>
<text x="227.65" y="277.6" text-anchor="middle">0</text>
<text x="264.54" y="277.6" text-anchor="middle">0.2</text>
<text x="301.43" y="277.6" text-anchor="middle">0.4</text>
<text x="338.32" y="277.6" text-anchor="middle">0.6</text>
<text x="375.21" y="277.6" text-anchor="middle">0.8</text>
<text x="412.10" y="277.6" text-anchor="middle">1</text>
<text x="32.7" y="263.30" text-anchor="end">0</text>
<text x="32.7" y="182.60" text-anchor="end">1</text>
<text x="32.7" y="101.90" text-anchor="end">2</text>
<text x="32.7" y="21.20" text-anchor="end">3</text>
</g>
<text x="226" y="298.1" font-size="15.5" font-style="italic" text-anchor="middle">q</text>
<text transform="translate(12.8,129.6) rotate(-90)" font-size="16" letter-spacing="0.4" text-anchor="middle"><tspan font-style="italic">P</tspan>(<tspan font-style="italic">q</tspan>)</text>
<g class="lg" font-size="14.6">
<text x="215.0" y="31.60" font-style="italic" textLength="10.2" lengthAdjust="spacingAndGlyphs">L</text>
<path d="M228.9 26.20 h10.3 M228.9 29.10 h10.3" stroke="#000" stroke-width="0.7" fill="none"/>
<text x="243.9" y="31.60" textLength="7.9" lengthAdjust="spacingAndGlyphs">4</text>
</g>
<g class="lg" font-size="14.6">
<text x="215.0" y="45.40" font-style="italic" textLength="10.2" lengthAdjust="spacingAndGlyphs">L</text>
<path d="M228.9 40.00 h10.3 M228.9 42.90 h10.3" stroke="#000" stroke-width="0.7" fill="none"/>
<text x="243.9" y="45.40" textLength="7.9" lengthAdjust="spacingAndGlyphs">6</text>
</g>
<g class="lg" font-size="14.6">
<text x="215.0" y="59.20" font-style="italic" textLength="10.2" lengthAdjust="spacingAndGlyphs">L</text>
<path d="M228.9 53.80 h10.3 M228.9 56.70 h10.3" stroke="#000" stroke-width="0.7" fill="none"/>
<text x="243.9" y="59.20" textLength="7.9" lengthAdjust="spacingAndGlyphs">8</text>
</g>
<g class="lg" font-size="14.6">
<text x="215.0" y="73.00" font-style="italic" textLength="10.2" lengthAdjust="spacingAndGlyphs">L</text>
<path d="M228.9 67.60 h10.3 M228.9 70.50 h10.3" stroke="#000" stroke-width="0.7" fill="none"/>
<text x="243.9" y="73.00" textLength="15.8" lengthAdjust="spacingAndGlyphs">10</text>
</g>
<g class="lg" font-size="14.6">
<text x="215.0" y="86.80" font-style="italic" textLength="10.2" lengthAdjust="spacingAndGlyphs">L</text>
<path d="M228.9 81.40 h10.3 M228.9 84.30 h10.3" stroke="#000" stroke-width="0.7" fill="none"/>
<text x="243.9" y="86.80" textLength="15.8" lengthAdjust="spacingAndGlyphs">12</text>
</g>
</g>
<path d="M193.4 27.85 H206.2" stroke="#ff1010" stroke-width="1.3" fill="none" opacity="0.88"/>
<path d="M193.4 41.85 H206.2" stroke="#3a6cf4" stroke-width="1.3" fill="none" opacity="0.88"/>
<path d="M193.4 55.85 H206.2" stroke="#357a35" stroke-width="1.3" fill="none" opacity="0.88"/>
<path d="M193.4 69.85 H206.2" stroke="#663399" stroke-width="1.3" fill="none" opacity="0.88"/>
<path d="M193.4 83.85 H206.2" stroke="#ff8a1c" stroke-width="1.3" fill="none" opacity="0.88"/>
</svg></body></html>
